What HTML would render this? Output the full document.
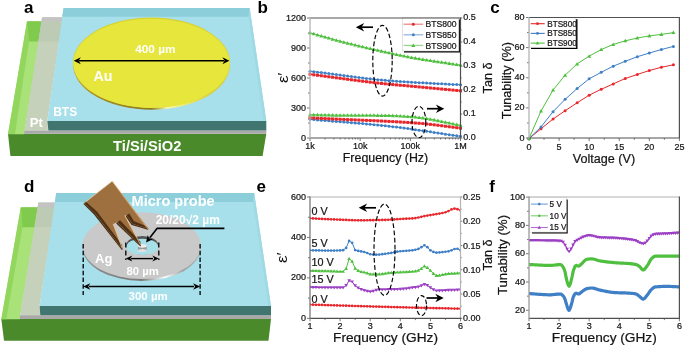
<!DOCTYPE html>
<html><head><meta charset="utf-8"><style>
html,body{margin:0;padding:0;background:#fff;}
svg{display:block;filter:blur(0.35px);}
text{font-family:"Liberation Sans",sans-serif;}
text[fill="#151515"]{stroke:#151515;stroke-width:0.22px;}
</style></head><body>
<svg width="685" height="346" viewBox="0 0 685 346" font-family="Liberation Sans, sans-serif">
<rect width="685" height="346" fill="#fff"/>
<polygon points="8,133.8 266.3,133.8 262.6,156 10.4,156" fill="#4a8a2b" />
<polygon points="27,21.2 42.2,21.2 24.2,134.2 8,134.2" fill="#a8e279" />
<polygon points="27,21.2 8,134 15,134 29,41.6" fill="#93d65e" />
<polygon points="27,21.2 42.2,21.2 38.9,41.6 29,41.6" fill="#80cb4d" />
<polygon points="42.1,17.3 62.8,17.3 47.3,121 48,130.6 24.5,130.6" fill="#c6d1bc" />
<polygon points="41.9,19 62.6,19 59.3,41.6 38.4,41.6" fill="#bdcab4" />
<polygon points="42.1,17.3 62.8,17.3 62.2,21.5 41.6,21.5" fill="#c3c3c3" />
<polygon points="24.5,130.4 266.3,130.4 266.3,133.8 23.9,133.8" fill="#a9a9a9" />
<polygon points="63.6,7.9 249.7,7.9 266.3,121 47.3,121" fill="#a7e0ea" />
<polygon points="249.7,7.9 266.3,121 263.5,121 248.5,16.8" fill="#9fd9e4" />
<polygon points="63.6,7.9 249.7,7.9 248.5,16.8 62.1,16.8" fill="#8ccfdb" />
<polygon points="47.3,121 266.3,121 266.3,130.4 48.4,130.4" fill="#40766f" />
<defs><linearGradient id="aurim" x1="0" y1="0" x2="1" y2="0"><stop offset="0" stop-color="#c0a830"/><stop offset="0.2" stop-color="#a08a22"/><stop offset="0.5" stop-color="#8e7a1c"/><stop offset="0.6" stop-color="#f6f6b8"/><stop offset="0.7" stop-color="#ecec70"/><stop offset="0.85" stop-color="#dcd040"/><stop offset="1" stop-color="#d8cc3a"/></linearGradient></defs>
<ellipse cx="151.5" cy="64.6" rx="78.4" ry="45.2" fill="url(#aurim)"/>
<ellipse cx="151.5" cy="62.6" rx="78.5" ry="45.2" fill="#d8d232"/>
<ellipse cx="151.5" cy="63.3" rx="78.2" ry="44.6" fill="#e6e63c"/>
<line x1="79" y1="60.7" x2="224" y2="60.7" stroke="#000" stroke-width="1.6" />
<polygon points="73.8,60.7 80.8,57.2 78.6,60.7 80.8,64.2" fill="#000" />
<polygon points="229.4,60.7 222.4,64.2 224.6,60.7 222.4,57.2" fill="#000" />
<text x="135.2" y="53.1" font-size="11.8" fill="#fff" font-weight="bold" text-anchor="start" >400 µm</text>
<text x="93.6" y="81.2" font-size="14.2" fill="#fff" font-weight="bold" text-anchor="start" >Au</text>
<text x="53.2" y="116.1" font-size="12" fill="#fff" font-weight="bold" text-anchor="start" >BTS</text>
<text x="29.8" y="126.6" font-size="13" fill="#fff" font-weight="bold" text-anchor="start" >Pt</text>
<text x="113.1" y="151.3" font-size="14.7" fill="#fff" font-weight="bold" text-anchor="start" >Ti/Si/SiO2</text>
<polygon points="1.3,319 271,319 268.5,340.8 4,340.8" fill="#4a8a2b" />
<polygon points="20.8,207.2 38.4,207.2 19.6,319.3 1.3,319.3" fill="#a8e279" />
<polygon points="20.8,207.2 1.3,319.2 6.3,319.2 22.5,227.3" fill="#93d65e" />
<polygon points="20.8,207.2 38.4,207.2 35,227.3 22.5,227.3" fill="#80cb4d" />
<polygon points="38.4,202.6 55.8,202.6 39.6,306 40.3,315.4 20,315.4" fill="#c6d1bc" />
<polygon points="38,205 55.5,205 52.3,227.1 34.9,227.1" fill="#bdcab4" />
<polygon points="38.4,202.6 55.8,202.6 55.3,207.2 37.6,207.2" fill="#c3c3c3" />
<polygon points="20,315.2 271,315.2 271,319 19.6,319" fill="#a9a9a9" />
<polygon points="56.2,193 254.2,193 271,306 39.6,306" fill="#a7e0ea" />
<polygon points="254.2,193 271,306 268.5,306 253,201.9" fill="#9fd9e4" />
<polygon points="56.2,193 254.2,193 253,201.9 54.9,201.9" fill="#8ccfdb" />
<polygon points="39.6,306 271,306 271,315.2 40.3,315.2" fill="#40766f" />
<defs><linearGradient id="agrim" x1="0" y1="0" x2="1" y2="0"><stop offset="0" stop-color="#909090"/><stop offset="0.5" stop-color="#7a7a7a"/><stop offset="0.7" stop-color="#ffffff"/><stop offset="0.85" stop-color="#a0a0a0"/><stop offset="1" stop-color="#b0b0b0"/></linearGradient></defs>
<ellipse cx="141.7" cy="247.6" rx="59.1" ry="33.3" fill="url(#agrim)"/>
<ellipse cx="141.7" cy="245.6" rx="59.1" ry="33.4" fill="#c9c9c9"/>
<ellipse cx="142.3" cy="245.4" rx="16" ry="9.3" fill="#555"/>
<ellipse cx="142.3" cy="246.9" rx="15.9" ry="8.2" fill="#a8e0ea"/>
<line x1="83.2" y1="244" x2="83.2" y2="295" stroke="#000" stroke-width="1.3" stroke-dasharray="4.5,2.2"/>
<line x1="200.1" y1="244" x2="200.1" y2="295" stroke="#000" stroke-width="1.3" stroke-dasharray="4.5,2.2"/>
<line x1="125.8" y1="242.4" x2="125.8" y2="260" stroke="#000" stroke-width="1.3" stroke-dasharray="5,3"/>
<line x1="158.8" y1="242.4" x2="158.8" y2="260" stroke="#000" stroke-width="1.3" stroke-dasharray="5,3"/>
<line x1="89" y1="286.5" x2="194" y2="286.5" stroke="#000" stroke-width="1.4" />
<polygon points="83.2,286.5 90.2,283.3 88.2,286.5 90.2,289.7" fill="#000" />
<polygon points="200.1,286.5 193.1,289.7 195.1,286.5 193.1,283.3" fill="#000" />
<line x1="131" y1="258.6" x2="153" y2="258.6" stroke="#000" stroke-width="1.4" />
<polygon points="125.8,258.6 132.3,255.6 130.3,258.6 132.3,261.6" fill="#000" />
<polygon points="158.8,258.6 152.3,261.6 154.3,258.6 152.3,255.6" fill="#000" />
<rect x="138" y="246" width="8.6" height="4.5" fill="#9a9a9a"/>
<ellipse cx="142.3" cy="250.5" rx="4.3" ry="1.5" fill="#e0e0e0"/>
<ellipse cx="142.3" cy="246" rx="4.3" ry="1.7" fill="#ececec"/>
<polygon points="126.6,215.3 132.3,223.8 148.5,228.8 147.8,229.8 131.6,225 125.6,216.4" fill="#4e3015" />
<polygon points="117.3,222.3 141,245.6 140.4,246.6 116.2,223.4" fill="#4e3015" />
<polygon points="84.2,202.9 95,213.3 122.6,249.2 122,250.2 94,214.4 83.4,204" fill="#4e3015" />
<polygon points="112.1,181.2 148.5,228.8 132.3,223.8 126.6,215.3 124.8,215.6 141,245.6 117.3,222.3 113.2,223.9 122.6,249.2 95,213.3 84.2,202.9" fill="#9e7040" />
<polygon points="126.6,215.3 132.3,223.8 148.5,228.8 145.5,226 133.8,221 129.2,213.6" fill="#4e3015" />
<polygon points="117.3,222.3 141,245.6 140.2,241.6 120,220.2" fill="#4e3015" />
<polygon points="84.2,202.9 95,213.3 122.6,249.2 122,245 97.2,211.8 85.6,201.6" fill="#4e3015" />
<line x1="124.8" y1="215.6" x2="140.6" y2="244.8" stroke="#f0c890" stroke-width="0.8" />
<line x1="113.2" y1="223.9" x2="122.2" y2="248.2" stroke="#f0c890" stroke-width="0.8" />
<line x1="112.4" y1="181.6" x2="147.6" y2="228.6" stroke="#e2a868" stroke-width="0.9" />
<line x1="84.6" y1="202.7" x2="111.8" y2="181.5" stroke="#e6cfa6" stroke-width="0.8" />
<polyline points="224.4,228.4 157,228.4 150,237.5" fill="none" stroke="#000" stroke-width="1.6" stroke-linejoin="round" />
<polygon points="146,242.6 147.77,235.07 149.11,238.69 152.94,239.17" fill="#000" />
<text x="131.6" y="206" font-size="14.5" fill="#fff" font-weight="bold" text-anchor="start" >Micro probe</text>
<text x="155.7" y="223.5" font-size="12" fill="#fff" font-weight="bold" text-anchor="start" >20/20√2 µm</text>
<text x="95" y="262.5" font-size="13" fill="#fff" font-weight="bold" text-anchor="start" >Ag</text>
<text x="126.5" y="275" font-size="11.3" fill="#fff" font-weight="bold" text-anchor="start" >80 µm</text>
<text x="128.5" y="299.6" font-size="11.5" fill="#fff" font-weight="bold" text-anchor="start" >300 µm</text>
<line x1="307" y1="138" x2="310" y2="138" stroke="#555" stroke-width="0.8" />
<text x="306" y="140.5" font-size="9" fill="#151515" font-weight="normal" text-anchor="end" >0</text>
<line x1="308" y1="123" x2="310" y2="123" stroke="#555" stroke-width="0.8" />
<line x1="307" y1="108" x2="310" y2="108" stroke="#555" stroke-width="0.8" />
<text x="306" y="110.5" font-size="9" fill="#151515" font-weight="normal" text-anchor="end" >300</text>
<line x1="308" y1="93" x2="310" y2="93" stroke="#555" stroke-width="0.8" />
<line x1="307" y1="78" x2="310" y2="78" stroke="#555" stroke-width="0.8" />
<text x="306" y="80.5" font-size="9" fill="#151515" font-weight="normal" text-anchor="end" >600</text>
<line x1="308" y1="63" x2="310" y2="63" stroke="#555" stroke-width="0.8" />
<line x1="307" y1="48" x2="310" y2="48" stroke="#555" stroke-width="0.8" />
<text x="306" y="50.5" font-size="9" fill="#151515" font-weight="normal" text-anchor="end" >900</text>
<line x1="308" y1="33" x2="310" y2="33" stroke="#555" stroke-width="0.8" />
<line x1="307" y1="18" x2="310" y2="18" stroke="#555" stroke-width="0.8" />
<text x="306" y="20.5" font-size="9" fill="#151515" font-weight="normal" text-anchor="end" >1200</text>
<line x1="460.5" y1="138" x2="462.3" y2="138" stroke="#555" stroke-width="0.8" />
<text x="463.3" y="140.3" font-size="9" fill="#151515" font-weight="normal" text-anchor="start" >0.0</text>
<line x1="460.5" y1="126" x2="461.7" y2="126" stroke="#555" stroke-width="0.8" />
<line x1="460.5" y1="114" x2="462.3" y2="114" stroke="#555" stroke-width="0.8" />
<text x="463.3" y="116.3" font-size="9" fill="#151515" font-weight="normal" text-anchor="start" >0.1</text>
<line x1="460.5" y1="102" x2="461.7" y2="102" stroke="#555" stroke-width="0.8" />
<line x1="460.5" y1="90" x2="462.3" y2="90" stroke="#555" stroke-width="0.8" />
<text x="463.3" y="92.3" font-size="9" fill="#151515" font-weight="normal" text-anchor="start" >0.2</text>
<line x1="460.5" y1="78" x2="461.7" y2="78" stroke="#555" stroke-width="0.8" />
<line x1="460.5" y1="66" x2="462.3" y2="66" stroke="#555" stroke-width="0.8" />
<text x="463.3" y="68.3" font-size="9" fill="#151515" font-weight="normal" text-anchor="start" >0.3</text>
<line x1="460.5" y1="54" x2="461.7" y2="54" stroke="#555" stroke-width="0.8" />
<line x1="460.5" y1="42" x2="462.3" y2="42" stroke="#555" stroke-width="0.8" />
<text x="463.3" y="44.3" font-size="9" fill="#151515" font-weight="normal" text-anchor="start" >0.4</text>
<line x1="460.5" y1="30" x2="461.7" y2="30" stroke="#555" stroke-width="0.8" />
<line x1="460.5" y1="18" x2="462.3" y2="18" stroke="#555" stroke-width="0.8" />
<text x="463.3" y="20.3" font-size="9" fill="#151515" font-weight="normal" text-anchor="start" >0.5</text>
<line x1="310" y1="138" x2="310" y2="141" stroke="#555" stroke-width="0.8" />
<line x1="325.1" y1="138" x2="325.1" y2="139.5" stroke="#555" stroke-width="0.8" />
<line x1="333.94" y1="138" x2="333.94" y2="139.5" stroke="#555" stroke-width="0.8" />
<line x1="340.2" y1="138" x2="340.2" y2="139.5" stroke="#555" stroke-width="0.8" />
<line x1="345.06" y1="138" x2="345.06" y2="139.5" stroke="#555" stroke-width="0.8" />
<line x1="349.04" y1="138" x2="349.04" y2="139.5" stroke="#555" stroke-width="0.8" />
<line x1="352.4" y1="138" x2="352.4" y2="139.5" stroke="#555" stroke-width="0.8" />
<line x1="355.31" y1="138" x2="355.31" y2="139.5" stroke="#555" stroke-width="0.8" />
<line x1="357.87" y1="138" x2="357.87" y2="139.5" stroke="#555" stroke-width="0.8" />
<line x1="360.17" y1="138" x2="360.17" y2="141" stroke="#555" stroke-width="0.8" />
<line x1="375.27" y1="138" x2="375.27" y2="139.5" stroke="#555" stroke-width="0.8" />
<line x1="384.1" y1="138" x2="384.1" y2="139.5" stroke="#555" stroke-width="0.8" />
<line x1="390.37" y1="138" x2="390.37" y2="139.5" stroke="#555" stroke-width="0.8" />
<line x1="395.23" y1="138" x2="395.23" y2="139.5" stroke="#555" stroke-width="0.8" />
<line x1="399.2" y1="138" x2="399.2" y2="139.5" stroke="#555" stroke-width="0.8" />
<line x1="402.56" y1="138" x2="402.56" y2="139.5" stroke="#555" stroke-width="0.8" />
<line x1="405.47" y1="138" x2="405.47" y2="139.5" stroke="#555" stroke-width="0.8" />
<line x1="408.04" y1="138" x2="408.04" y2="139.5" stroke="#555" stroke-width="0.8" />
<line x1="410.33" y1="138" x2="410.33" y2="141" stroke="#555" stroke-width="0.8" />
<line x1="425.44" y1="138" x2="425.44" y2="139.5" stroke="#555" stroke-width="0.8" />
<line x1="434.27" y1="138" x2="434.27" y2="139.5" stroke="#555" stroke-width="0.8" />
<line x1="440.54" y1="138" x2="440.54" y2="139.5" stroke="#555" stroke-width="0.8" />
<line x1="445.4" y1="138" x2="445.4" y2="139.5" stroke="#555" stroke-width="0.8" />
<line x1="449.37" y1="138" x2="449.37" y2="139.5" stroke="#555" stroke-width="0.8" />
<line x1="452.73" y1="138" x2="452.73" y2="139.5" stroke="#555" stroke-width="0.8" />
<line x1="455.64" y1="138" x2="455.64" y2="139.5" stroke="#555" stroke-width="0.8" />
<line x1="458.2" y1="138" x2="458.2" y2="139.5" stroke="#555" stroke-width="0.8" />
<line x1="460.5" y1="138" x2="460.5" y2="141" stroke="#555" stroke-width="0.8" />
<text x="310" y="149.3" font-size="9" fill="#151515" font-weight="normal" text-anchor="middle" >1k</text>
<text x="360.17" y="149.3" font-size="9" fill="#151515" font-weight="normal" text-anchor="middle" >10k</text>
<text x="410.33" y="149.3" font-size="9" fill="#151515" font-weight="normal" text-anchor="middle" >100k</text>
<text x="460.5" y="149.3" font-size="9" fill="#151515" font-weight="normal" text-anchor="middle" >1M</text>
<text x="385.5" y="161.8" font-size="12.4" fill="#151515" font-weight="normal" text-anchor="middle" >Frequency (Hz)</text>
<text transform="translate(287.6,77.8) rotate(-90) scale(1.2,1)" font-size="14" fill="#111" text-anchor="middle">ε′</text>
<text transform="translate(491.8,78) rotate(-90)" font-size="12.6" fill="#151515" text-anchor="middle">Tan δ</text>
<polyline points="310,71.2 313.76,71.66 317.52,72.14 321.29,72.62 325.05,73.11 328.81,73.61 332.57,74.11 336.34,74.61 340.1,75.11 343.86,75.61 347.62,76.1 351.39,76.58 355.15,77.06 358.91,77.53 362.68,77.98 366.44,78.42 370.2,78.84 373.96,79.25 377.73,79.63 381.49,79.99 385.25,80.33 389.01,80.64 392.77,80.93 396.54,81.21 400.3,81.47 404.06,81.72 407.82,81.96 411.59,82.19 415.35,82.42 419.11,82.64 422.88,82.85 426.64,83.05 430.4,83.25 434.16,83.45 437.93,83.64 441.69,83.83 445.45,84.02 449.21,84.21 452.98,84.41 456.74,84.6 460.5,84.8" fill="none" stroke="#3f7fc6" stroke-width="1.0" stroke-linejoin="round" />
<circle cx="310" cy="71.2" r="1.5" fill="#3f7fc6"/>
<circle cx="313.76" cy="71.66" r="1.5" fill="#3f7fc6"/>
<circle cx="317.52" cy="72.14" r="1.5" fill="#3f7fc6"/>
<circle cx="321.29" cy="72.62" r="1.5" fill="#3f7fc6"/>
<circle cx="325.05" cy="73.11" r="1.5" fill="#3f7fc6"/>
<circle cx="328.81" cy="73.61" r="1.5" fill="#3f7fc6"/>
<circle cx="332.57" cy="74.11" r="1.5" fill="#3f7fc6"/>
<circle cx="336.34" cy="74.61" r="1.5" fill="#3f7fc6"/>
<circle cx="340.1" cy="75.11" r="1.5" fill="#3f7fc6"/>
<circle cx="343.86" cy="75.61" r="1.5" fill="#3f7fc6"/>
<circle cx="347.62" cy="76.1" r="1.5" fill="#3f7fc6"/>
<circle cx="351.39" cy="76.58" r="1.5" fill="#3f7fc6"/>
<circle cx="355.15" cy="77.06" r="1.5" fill="#3f7fc6"/>
<circle cx="358.91" cy="77.53" r="1.5" fill="#3f7fc6"/>
<circle cx="362.68" cy="77.98" r="1.5" fill="#3f7fc6"/>
<circle cx="366.44" cy="78.42" r="1.5" fill="#3f7fc6"/>
<circle cx="370.2" cy="78.84" r="1.5" fill="#3f7fc6"/>
<circle cx="373.96" cy="79.25" r="1.5" fill="#3f7fc6"/>
<circle cx="377.73" cy="79.63" r="1.5" fill="#3f7fc6"/>
<circle cx="381.49" cy="79.99" r="1.5" fill="#3f7fc6"/>
<circle cx="385.25" cy="80.33" r="1.5" fill="#3f7fc6"/>
<circle cx="389.01" cy="80.64" r="1.5" fill="#3f7fc6"/>
<circle cx="392.77" cy="80.93" r="1.5" fill="#3f7fc6"/>
<circle cx="396.54" cy="81.21" r="1.5" fill="#3f7fc6"/>
<circle cx="400.3" cy="81.47" r="1.5" fill="#3f7fc6"/>
<circle cx="404.06" cy="81.72" r="1.5" fill="#3f7fc6"/>
<circle cx="407.82" cy="81.96" r="1.5" fill="#3f7fc6"/>
<circle cx="411.59" cy="82.19" r="1.5" fill="#3f7fc6"/>
<circle cx="415.35" cy="82.42" r="1.5" fill="#3f7fc6"/>
<circle cx="419.11" cy="82.64" r="1.5" fill="#3f7fc6"/>
<circle cx="422.88" cy="82.85" r="1.5" fill="#3f7fc6"/>
<circle cx="426.64" cy="83.05" r="1.5" fill="#3f7fc6"/>
<circle cx="430.4" cy="83.25" r="1.5" fill="#3f7fc6"/>
<circle cx="434.16" cy="83.45" r="1.5" fill="#3f7fc6"/>
<circle cx="437.93" cy="83.64" r="1.5" fill="#3f7fc6"/>
<circle cx="441.69" cy="83.83" r="1.5" fill="#3f7fc6"/>
<circle cx="445.45" cy="84.02" r="1.5" fill="#3f7fc6"/>
<circle cx="449.21" cy="84.21" r="1.5" fill="#3f7fc6"/>
<circle cx="452.98" cy="84.41" r="1.5" fill="#3f7fc6"/>
<circle cx="456.74" cy="84.6" r="1.5" fill="#3f7fc6"/>
<circle cx="460.5" cy="84.8" r="1.5" fill="#3f7fc6"/>
<polyline points="310,74.3 313.76,74.78 317.52,75.27 321.29,75.76 325.05,76.26 328.81,76.77 332.57,77.27 336.34,77.78 340.1,78.28 343.86,78.79 347.62,79.29 351.39,79.78 355.15,80.27 358.91,80.76 362.68,81.23 366.44,81.7 370.2,82.15 373.96,82.59 377.73,83.02 381.49,83.43 385.25,83.83 389.01,84.21 392.77,84.56 396.54,84.9 400.3,85.23 404.06,85.56 407.82,85.89 411.59,86.24 415.35,86.59 419.11,86.94 422.88,87.29 426.64,87.64 430.4,87.99 434.16,88.34 437.93,88.69 441.69,89.04 445.45,89.39 449.21,89.75 452.98,90.1 456.74,90.45 460.5,90.8" fill="none" stroke="#e8262b" stroke-width="1.0" stroke-linejoin="round" />
<rect x="308.5" y="72.8" width="3" height="3" fill="#e8262b"/>
<rect x="312.26" y="73.28" width="3" height="3" fill="#e8262b"/>
<rect x="316.02" y="73.77" width="3" height="3" fill="#e8262b"/>
<rect x="319.79" y="74.26" width="3" height="3" fill="#e8262b"/>
<rect x="323.55" y="74.76" width="3" height="3" fill="#e8262b"/>
<rect x="327.31" y="75.27" width="3" height="3" fill="#e8262b"/>
<rect x="331.07" y="75.77" width="3" height="3" fill="#e8262b"/>
<rect x="334.84" y="76.28" width="3" height="3" fill="#e8262b"/>
<rect x="338.6" y="76.78" width="3" height="3" fill="#e8262b"/>
<rect x="342.36" y="77.29" width="3" height="3" fill="#e8262b"/>
<rect x="346.12" y="77.79" width="3" height="3" fill="#e8262b"/>
<rect x="349.89" y="78.28" width="3" height="3" fill="#e8262b"/>
<rect x="353.65" y="78.77" width="3" height="3" fill="#e8262b"/>
<rect x="357.41" y="79.26" width="3" height="3" fill="#e8262b"/>
<rect x="361.18" y="79.73" width="3" height="3" fill="#e8262b"/>
<rect x="364.94" y="80.2" width="3" height="3" fill="#e8262b"/>
<rect x="368.7" y="80.65" width="3" height="3" fill="#e8262b"/>
<rect x="372.46" y="81.09" width="3" height="3" fill="#e8262b"/>
<rect x="376.23" y="81.52" width="3" height="3" fill="#e8262b"/>
<rect x="379.99" y="81.93" width="3" height="3" fill="#e8262b"/>
<rect x="383.75" y="82.33" width="3" height="3" fill="#e8262b"/>
<rect x="387.51" y="82.71" width="3" height="3" fill="#e8262b"/>
<rect x="391.27" y="83.06" width="3" height="3" fill="#e8262b"/>
<rect x="395.04" y="83.4" width="3" height="3" fill="#e8262b"/>
<rect x="398.8" y="83.73" width="3" height="3" fill="#e8262b"/>
<rect x="402.56" y="84.06" width="3" height="3" fill="#e8262b"/>
<rect x="406.32" y="84.39" width="3" height="3" fill="#e8262b"/>
<rect x="410.09" y="84.74" width="3" height="3" fill="#e8262b"/>
<rect x="413.85" y="85.09" width="3" height="3" fill="#e8262b"/>
<rect x="417.61" y="85.44" width="3" height="3" fill="#e8262b"/>
<rect x="421.38" y="85.79" width="3" height="3" fill="#e8262b"/>
<rect x="425.14" y="86.14" width="3" height="3" fill="#e8262b"/>
<rect x="428.9" y="86.49" width="3" height="3" fill="#e8262b"/>
<rect x="432.66" y="86.84" width="3" height="3" fill="#e8262b"/>
<rect x="436.43" y="87.19" width="3" height="3" fill="#e8262b"/>
<rect x="440.19" y="87.54" width="3" height="3" fill="#e8262b"/>
<rect x="443.95" y="87.89" width="3" height="3" fill="#e8262b"/>
<rect x="447.71" y="88.25" width="3" height="3" fill="#e8262b"/>
<rect x="451.48" y="88.6" width="3" height="3" fill="#e8262b"/>
<rect x="455.24" y="88.95" width="3" height="3" fill="#e8262b"/>
<rect x="459" y="89.3" width="3" height="3" fill="#e8262b"/>
<polyline points="310,32.8 313.76,33.85 317.52,34.91 321.29,35.97 325.05,37.04 328.81,38.1 332.57,39.15 336.34,40.19 340.1,41.2 343.86,42.19 347.62,43.15 351.39,44.09 355.15,45.02 358.91,45.93 362.68,46.82 366.44,47.71 370.2,48.58 373.96,49.44 377.73,50.29 381.49,51.14 385.25,51.98 389.01,52.83 392.77,53.66 396.54,54.48 400.3,55.28 404.06,56.05 407.82,56.78 411.59,57.47 415.35,58.14 419.11,58.77 422.88,59.39 426.64,59.99 430.4,60.57 434.16,61.14 437.93,61.71 441.69,62.27 445.45,62.82 449.21,63.38 452.98,63.95 456.74,64.52 460.5,65.1" fill="none" stroke="#4fbf3f" stroke-width="1.0" stroke-linejoin="round" />
<polygon points="310,30.77 312.02,34.32 307.98,34.32" fill="#4fbf3f"/>
<polygon points="313.76,31.82 315.79,35.37 311.74,35.37" fill="#4fbf3f"/>
<polygon points="317.52,32.88 319.55,36.43 315.5,36.43" fill="#4fbf3f"/>
<polygon points="321.29,33.95 323.31,37.49 319.26,37.49" fill="#4fbf3f"/>
<polygon points="325.05,35.02 327.07,38.56 323.03,38.56" fill="#4fbf3f"/>
<polygon points="328.81,36.08 330.84,39.62 326.79,39.62" fill="#4fbf3f"/>
<polygon points="332.57,37.13 334.6,40.67 330.55,40.67" fill="#4fbf3f"/>
<polygon points="336.34,38.16 338.36,41.71 334.31,41.71" fill="#4fbf3f"/>
<polygon points="340.1,39.18 342.12,42.72 338.08,42.72" fill="#4fbf3f"/>
<polygon points="343.86,40.17 345.89,43.71 341.84,43.71" fill="#4fbf3f"/>
<polygon points="347.62,41.13 349.65,44.67 345.6,44.67" fill="#4fbf3f"/>
<polygon points="351.39,42.07 353.41,45.61 349.36,45.61" fill="#4fbf3f"/>
<polygon points="355.15,42.99 357.17,46.54 353.12,46.54" fill="#4fbf3f"/>
<polygon points="358.91,43.9 360.94,47.45 356.89,47.45" fill="#4fbf3f"/>
<polygon points="362.68,44.8 364.7,48.34 360.65,48.34" fill="#4fbf3f"/>
<polygon points="366.44,45.68 368.46,49.23 364.41,49.23" fill="#4fbf3f"/>
<polygon points="370.2,46.55 372.22,50.1 368.18,50.1" fill="#4fbf3f"/>
<polygon points="373.96,47.42 375.99,50.96 371.94,50.96" fill="#4fbf3f"/>
<polygon points="377.73,48.27 379.75,51.81 375.7,51.81" fill="#4fbf3f"/>
<polygon points="381.49,49.11 383.51,52.66 379.46,52.66" fill="#4fbf3f"/>
<polygon points="385.25,49.96 387.27,53.5 383.23,53.5" fill="#4fbf3f"/>
<polygon points="389.01,50.8 391.04,54.35 386.99,54.35" fill="#4fbf3f"/>
<polygon points="392.77,51.64 394.8,55.18 390.75,55.18" fill="#4fbf3f"/>
<polygon points="396.54,52.46 398.56,56 394.51,56" fill="#4fbf3f"/>
<polygon points="400.3,53.25 402.32,56.8 398.28,56.8" fill="#4fbf3f"/>
<polygon points="404.06,54.02 406.09,57.56 402.04,57.56" fill="#4fbf3f"/>
<polygon points="407.82,54.75 409.85,58.3 405.8,58.3" fill="#4fbf3f"/>
<polygon points="411.59,55.45 413.61,58.99 409.56,58.99" fill="#4fbf3f"/>
<polygon points="415.35,56.11 417.38,59.65 413.33,59.65" fill="#4fbf3f"/>
<polygon points="419.11,56.75 421.14,60.29 417.09,60.29" fill="#4fbf3f"/>
<polygon points="422.88,57.37 424.9,60.91 420.85,60.91" fill="#4fbf3f"/>
<polygon points="426.64,57.96 428.66,61.51 424.61,61.51" fill="#4fbf3f"/>
<polygon points="430.4,58.55 432.42,62.09 428.38,62.09" fill="#4fbf3f"/>
<polygon points="434.16,59.12 436.19,62.66 432.14,62.66" fill="#4fbf3f"/>
<polygon points="437.93,59.68 439.95,63.23 435.9,63.23" fill="#4fbf3f"/>
<polygon points="441.69,60.24 443.71,63.79 439.66,63.79" fill="#4fbf3f"/>
<polygon points="445.45,60.8 447.48,64.34 443.43,64.34" fill="#4fbf3f"/>
<polygon points="449.21,61.36 451.24,64.9 447.19,64.9" fill="#4fbf3f"/>
<polygon points="452.98,61.92 455,65.46 450.95,65.46" fill="#4fbf3f"/>
<polygon points="456.74,62.49 458.76,66.04 454.71,66.04" fill="#4fbf3f"/>
<polygon points="460.5,63.07 462.52,66.62 458.48,66.62" fill="#4fbf3f"/>
<polyline points="310,119.28 313.76,119.6 317.52,119.92 321.29,120.23 325.05,120.53 328.81,120.83 332.57,121.14 336.34,121.44 340.1,121.74 343.86,122.04 347.62,122.34 351.39,122.65 355.15,122.96 358.91,123.28 362.68,123.61 366.44,123.95 370.2,124.29 373.96,124.65 377.73,125.02 381.49,125.4 385.25,125.79 389.01,126.21 392.77,126.65 396.54,127.11 400.3,127.58 404.06,128.08 407.82,128.59 411.59,129.12 415.35,129.65 419.11,130.2 422.88,130.75 426.64,131.31 430.4,131.87 434.16,132.44 437.93,133.01 441.69,133.57 445.45,134.14 449.21,134.7 452.98,135.25 456.74,135.79 460.5,136.32" fill="none" stroke="#3f7fc6" stroke-width="1.0" stroke-linejoin="round" />
<circle cx="310" cy="119.28" r="1.5" fill="#3f7fc6"/>
<circle cx="313.76" cy="119.6" r="1.5" fill="#3f7fc6"/>
<circle cx="317.52" cy="119.92" r="1.5" fill="#3f7fc6"/>
<circle cx="321.29" cy="120.23" r="1.5" fill="#3f7fc6"/>
<circle cx="325.05" cy="120.53" r="1.5" fill="#3f7fc6"/>
<circle cx="328.81" cy="120.83" r="1.5" fill="#3f7fc6"/>
<circle cx="332.57" cy="121.14" r="1.5" fill="#3f7fc6"/>
<circle cx="336.34" cy="121.44" r="1.5" fill="#3f7fc6"/>
<circle cx="340.1" cy="121.74" r="1.5" fill="#3f7fc6"/>
<circle cx="343.86" cy="122.04" r="1.5" fill="#3f7fc6"/>
<circle cx="347.62" cy="122.34" r="1.5" fill="#3f7fc6"/>
<circle cx="351.39" cy="122.65" r="1.5" fill="#3f7fc6"/>
<circle cx="355.15" cy="122.96" r="1.5" fill="#3f7fc6"/>
<circle cx="358.91" cy="123.28" r="1.5" fill="#3f7fc6"/>
<circle cx="362.68" cy="123.61" r="1.5" fill="#3f7fc6"/>
<circle cx="366.44" cy="123.95" r="1.5" fill="#3f7fc6"/>
<circle cx="370.2" cy="124.29" r="1.5" fill="#3f7fc6"/>
<circle cx="373.96" cy="124.65" r="1.5" fill="#3f7fc6"/>
<circle cx="377.73" cy="125.02" r="1.5" fill="#3f7fc6"/>
<circle cx="381.49" cy="125.4" r="1.5" fill="#3f7fc6"/>
<circle cx="385.25" cy="125.79" r="1.5" fill="#3f7fc6"/>
<circle cx="389.01" cy="126.21" r="1.5" fill="#3f7fc6"/>
<circle cx="392.77" cy="126.65" r="1.5" fill="#3f7fc6"/>
<circle cx="396.54" cy="127.11" r="1.5" fill="#3f7fc6"/>
<circle cx="400.3" cy="127.58" r="1.5" fill="#3f7fc6"/>
<circle cx="404.06" cy="128.08" r="1.5" fill="#3f7fc6"/>
<circle cx="407.82" cy="128.59" r="1.5" fill="#3f7fc6"/>
<circle cx="411.59" cy="129.12" r="1.5" fill="#3f7fc6"/>
<circle cx="415.35" cy="129.65" r="1.5" fill="#3f7fc6"/>
<circle cx="419.11" cy="130.2" r="1.5" fill="#3f7fc6"/>
<circle cx="422.88" cy="130.75" r="1.5" fill="#3f7fc6"/>
<circle cx="426.64" cy="131.31" r="1.5" fill="#3f7fc6"/>
<circle cx="430.4" cy="131.87" r="1.5" fill="#3f7fc6"/>
<circle cx="434.16" cy="132.44" r="1.5" fill="#3f7fc6"/>
<circle cx="437.93" cy="133.01" r="1.5" fill="#3f7fc6"/>
<circle cx="441.69" cy="133.57" r="1.5" fill="#3f7fc6"/>
<circle cx="445.45" cy="134.14" r="1.5" fill="#3f7fc6"/>
<circle cx="449.21" cy="134.7" r="1.5" fill="#3f7fc6"/>
<circle cx="452.98" cy="135.25" r="1.5" fill="#3f7fc6"/>
<circle cx="456.74" cy="135.79" r="1.5" fill="#3f7fc6"/>
<circle cx="460.5" cy="136.32" r="1.5" fill="#3f7fc6"/>
<polyline points="310,117.84 313.76,118.02 317.52,118.2 321.29,118.39 325.05,118.57 328.81,118.75 332.57,118.93 336.34,119.11 340.1,119.28 343.86,119.45 347.62,119.61 351.39,119.76 355.15,119.91 358.91,120.06 362.68,120.22 366.44,120.37 370.2,120.52 373.96,120.68 377.73,120.85 381.49,121.03 385.25,121.22 389.01,121.41 392.77,121.61 396.54,121.81 400.3,122.02 404.06,122.25 407.82,122.48 411.59,122.73 415.35,123 419.11,123.29 422.88,123.6 426.64,123.97 430.4,124.37 434.16,124.81 437.93,125.27 441.69,125.75 445.45,126.24 449.21,126.74 452.98,127.22 456.74,127.7 460.5,128.16" fill="none" stroke="#e8262b" stroke-width="1.0" stroke-linejoin="round" />
<rect x="308.5" y="116.34" width="3" height="3" fill="#e8262b"/>
<rect x="312.26" y="116.52" width="3" height="3" fill="#e8262b"/>
<rect x="316.02" y="116.7" width="3" height="3" fill="#e8262b"/>
<rect x="319.79" y="116.89" width="3" height="3" fill="#e8262b"/>
<rect x="323.55" y="117.07" width="3" height="3" fill="#e8262b"/>
<rect x="327.31" y="117.25" width="3" height="3" fill="#e8262b"/>
<rect x="331.07" y="117.43" width="3" height="3" fill="#e8262b"/>
<rect x="334.84" y="117.61" width="3" height="3" fill="#e8262b"/>
<rect x="338.6" y="117.78" width="3" height="3" fill="#e8262b"/>
<rect x="342.36" y="117.95" width="3" height="3" fill="#e8262b"/>
<rect x="346.12" y="118.11" width="3" height="3" fill="#e8262b"/>
<rect x="349.89" y="118.26" width="3" height="3" fill="#e8262b"/>
<rect x="353.65" y="118.41" width="3" height="3" fill="#e8262b"/>
<rect x="357.41" y="118.56" width="3" height="3" fill="#e8262b"/>
<rect x="361.18" y="118.72" width="3" height="3" fill="#e8262b"/>
<rect x="364.94" y="118.87" width="3" height="3" fill="#e8262b"/>
<rect x="368.7" y="119.02" width="3" height="3" fill="#e8262b"/>
<rect x="372.46" y="119.18" width="3" height="3" fill="#e8262b"/>
<rect x="376.23" y="119.35" width="3" height="3" fill="#e8262b"/>
<rect x="379.99" y="119.53" width="3" height="3" fill="#e8262b"/>
<rect x="383.75" y="119.72" width="3" height="3" fill="#e8262b"/>
<rect x="387.51" y="119.91" width="3" height="3" fill="#e8262b"/>
<rect x="391.27" y="120.11" width="3" height="3" fill="#e8262b"/>
<rect x="395.04" y="120.31" width="3" height="3" fill="#e8262b"/>
<rect x="398.8" y="120.52" width="3" height="3" fill="#e8262b"/>
<rect x="402.56" y="120.75" width="3" height="3" fill="#e8262b"/>
<rect x="406.32" y="120.98" width="3" height="3" fill="#e8262b"/>
<rect x="410.09" y="121.23" width="3" height="3" fill="#e8262b"/>
<rect x="413.85" y="121.5" width="3" height="3" fill="#e8262b"/>
<rect x="417.61" y="121.79" width="3" height="3" fill="#e8262b"/>
<rect x="421.38" y="122.1" width="3" height="3" fill="#e8262b"/>
<rect x="425.14" y="122.47" width="3" height="3" fill="#e8262b"/>
<rect x="428.9" y="122.87" width="3" height="3" fill="#e8262b"/>
<rect x="432.66" y="123.31" width="3" height="3" fill="#e8262b"/>
<rect x="436.43" y="123.77" width="3" height="3" fill="#e8262b"/>
<rect x="440.19" y="124.25" width="3" height="3" fill="#e8262b"/>
<rect x="443.95" y="124.74" width="3" height="3" fill="#e8262b"/>
<rect x="447.71" y="125.24" width="3" height="3" fill="#e8262b"/>
<rect x="451.48" y="125.72" width="3" height="3" fill="#e8262b"/>
<rect x="455.24" y="126.2" width="3" height="3" fill="#e8262b"/>
<rect x="459" y="126.66" width="3" height="3" fill="#e8262b"/>
<polyline points="310,114.72 313.76,114.78 317.52,114.85 321.29,114.92 325.05,114.99 328.81,115.05 332.57,115.11 336.34,115.16 340.1,115.2 343.86,115.23 347.62,115.25 351.39,115.27 355.15,115.28 358.91,115.3 362.68,115.31 366.44,115.32 370.2,115.34 373.96,115.36 377.73,115.38 381.49,115.41 385.25,115.44 389.01,115.52 392.77,115.64 396.54,115.81 400.3,116.01 404.06,116.24 407.82,116.49 411.59,116.75 415.35,117.09 419.11,117.51 422.88,117.99 426.64,118.56 430.4,119.2 434.16,119.9 437.93,120.64 441.69,121.41 445.45,122.2 449.21,122.99 452.98,123.78 456.74,124.55 460.5,125.28" fill="none" stroke="#4fbf3f" stroke-width="1.0" stroke-linejoin="round" />
<polygon points="310,112.69 312.02,116.24 307.98,116.24" fill="#4fbf3f"/>
<polygon points="313.76,112.76 315.79,116.3 311.74,116.3" fill="#4fbf3f"/>
<polygon points="317.52,112.83 319.55,116.37 315.5,116.37" fill="#4fbf3f"/>
<polygon points="321.29,112.9 323.31,116.44 319.26,116.44" fill="#4fbf3f"/>
<polygon points="325.05,112.96 327.07,116.51 323.03,116.51" fill="#4fbf3f"/>
<polygon points="328.81,113.03 330.84,116.57 326.79,116.57" fill="#4fbf3f"/>
<polygon points="332.57,113.09 334.6,116.63 330.55,116.63" fill="#4fbf3f"/>
<polygon points="336.34,113.14 338.36,116.68 334.31,116.68" fill="#4fbf3f"/>
<polygon points="340.1,113.17 342.12,116.72 338.08,116.72" fill="#4fbf3f"/>
<polygon points="343.86,113.2 345.89,116.75 341.84,116.75" fill="#4fbf3f"/>
<polygon points="347.62,113.23 349.65,116.77 345.6,116.77" fill="#4fbf3f"/>
<polygon points="351.39,113.24 353.41,116.79 349.36,116.79" fill="#4fbf3f"/>
<polygon points="355.15,113.26 357.17,116.8 353.12,116.8" fill="#4fbf3f"/>
<polygon points="358.91,113.27 360.94,116.81 356.89,116.81" fill="#4fbf3f"/>
<polygon points="362.68,113.28 364.7,116.83 360.65,116.83" fill="#4fbf3f"/>
<polygon points="366.44,113.3 368.46,116.84 364.41,116.84" fill="#4fbf3f"/>
<polygon points="370.2,113.31 372.22,116.86 368.18,116.86" fill="#4fbf3f"/>
<polygon points="373.96,113.33 375.99,116.87 371.94,116.87" fill="#4fbf3f"/>
<polygon points="377.73,113.35 379.75,116.9 375.7,116.9" fill="#4fbf3f"/>
<polygon points="381.49,113.38 383.51,116.93 379.46,116.93" fill="#4fbf3f"/>
<polygon points="385.25,113.42 387.27,116.96 383.23,116.96" fill="#4fbf3f"/>
<polygon points="389.01,113.49 391.04,117.04 386.99,117.04" fill="#4fbf3f"/>
<polygon points="392.77,113.62 394.8,117.16 390.75,117.16" fill="#4fbf3f"/>
<polygon points="396.54,113.79 398.56,117.33 394.51,117.33" fill="#4fbf3f"/>
<polygon points="400.3,113.99 402.32,117.53 398.28,117.53" fill="#4fbf3f"/>
<polygon points="404.06,114.22 406.09,117.76 402.04,117.76" fill="#4fbf3f"/>
<polygon points="407.82,114.46 409.85,118.01 405.8,118.01" fill="#4fbf3f"/>
<polygon points="411.59,114.73 413.61,118.27 409.56,118.27" fill="#4fbf3f"/>
<polygon points="415.35,115.07 417.38,118.61 413.33,118.61" fill="#4fbf3f"/>
<polygon points="419.11,115.48 421.14,119.03 417.09,119.03" fill="#4fbf3f"/>
<polygon points="422.88,115.97 424.9,119.51 420.85,119.51" fill="#4fbf3f"/>
<polygon points="426.64,116.54 428.66,120.08 424.61,120.08" fill="#4fbf3f"/>
<polygon points="430.4,117.18 432.42,120.72 428.38,120.72" fill="#4fbf3f"/>
<polygon points="434.16,117.87 436.19,121.41 432.14,121.41" fill="#4fbf3f"/>
<polygon points="437.93,118.61 439.95,122.16 435.9,122.16" fill="#4fbf3f"/>
<polygon points="441.69,119.38 443.71,122.93 439.66,122.93" fill="#4fbf3f"/>
<polygon points="445.45,120.17 447.48,123.72 443.43,123.72" fill="#4fbf3f"/>
<polygon points="449.21,120.97 451.24,124.51 447.19,124.51" fill="#4fbf3f"/>
<polygon points="452.98,121.76 455,125.3 450.95,125.3" fill="#4fbf3f"/>
<polygon points="456.74,122.52 458.76,126.07 454.71,126.07" fill="#4fbf3f"/>
<polygon points="460.5,123.25 462.52,126.8 458.48,126.8" fill="#4fbf3f"/>
<rect x="404" y="19.5" width="56" height="33" fill="#000"/>
<rect x="402.3" y="17.6" width="56.5" height="33.4" fill="#fff" stroke="#d0d0d0" stroke-width="0.6"/>
<line x1="403.5" y1="24.2" x2="423.2" y2="24.2" stroke="#e8262b" stroke-width="1.2" stroke-opacity="0.6"/>
<circle cx="413.3" cy="24.2" r="1.5" fill="#e8262b"/>
<text x="425.6" y="27.3" font-size="8.6" fill="#151515" font-weight="normal" text-anchor="start" >BTS800</text>
<line x1="403.5" y1="34.8" x2="423.2" y2="34.8" stroke="#3f7fc6" stroke-width="1.2" stroke-opacity="0.6"/>
<circle cx="413.3" cy="34.8" r="1.5" fill="#3f7fc6"/>
<text x="425.6" y="37.9" font-size="8.6" fill="#151515" font-weight="normal" text-anchor="start" >BTS850</text>
<line x1="403.5" y1="45.4" x2="423.2" y2="45.4" stroke="#4fbf3f" stroke-width="1.2" stroke-opacity="0.6"/>
<polygon points="413.3,43.38 415.32,46.92 411.28,46.92" fill="#4fbf3f"/>
<text x="425.6" y="48.5" font-size="8.6" fill="#151515" font-weight="normal" text-anchor="start" >BTS900</text>
<line x1="310" y1="18" x2="460.5" y2="18" stroke="#505050" stroke-width="1.2" />
<line x1="460.5" y1="17.4" x2="460.5" y2="138" stroke="#505050" stroke-width="1.2" />
<line x1="310" y1="138" x2="461.1" y2="138" stroke="#505050" stroke-width="1.2" />
<line x1="310" y1="17.4" x2="310" y2="138.6" stroke="#b4b4b4" stroke-width="1.3" />
<ellipse cx="382.5" cy="60.7" rx="9.7" ry="35.4" fill="none" stroke="#000" stroke-width="1.15" stroke-dasharray="4.6,2.4"/>
<ellipse cx="418.9" cy="122" rx="6.9" ry="15.7" fill="none" stroke="#000" stroke-width="1.15" stroke-dasharray="4.6,2.4"/>
<line x1="373" y1="27.2" x2="359.8" y2="27.2" stroke="#000" stroke-width="1.7" />
<polygon points="355.8,27.2 364.2,23 361.6,27.2 364.2,31.4" fill="#000" />
<line x1="427" y1="108.7" x2="440.3" y2="108.7" stroke="#000" stroke-width="1.7" />
<polygon points="444.3,108.7 435.9,112.9 438.5,108.7 435.9,104.5" fill="#000" />
<line x1="526" y1="138" x2="529" y2="138" stroke="#555" stroke-width="0.8" />
<text x="524.5" y="140.5" font-size="9" fill="#151515" font-weight="normal" text-anchor="end" >0</text>
<line x1="527" y1="122.94" x2="529" y2="122.94" stroke="#555" stroke-width="0.8" />
<line x1="526" y1="107.88" x2="529" y2="107.88" stroke="#555" stroke-width="0.8" />
<text x="524.5" y="110.38" font-size="9" fill="#151515" font-weight="normal" text-anchor="end" >20</text>
<line x1="527" y1="92.81" x2="529" y2="92.81" stroke="#555" stroke-width="0.8" />
<line x1="526" y1="77.75" x2="529" y2="77.75" stroke="#555" stroke-width="0.8" />
<text x="524.5" y="80.25" font-size="9" fill="#151515" font-weight="normal" text-anchor="end" >40</text>
<line x1="527" y1="62.69" x2="529" y2="62.69" stroke="#555" stroke-width="0.8" />
<line x1="526" y1="47.62" x2="529" y2="47.62" stroke="#555" stroke-width="0.8" />
<text x="524.5" y="50.12" font-size="9" fill="#151515" font-weight="normal" text-anchor="end" >60</text>
<line x1="527" y1="32.56" x2="529" y2="32.56" stroke="#555" stroke-width="0.8" />
<line x1="526" y1="17.5" x2="529" y2="17.5" stroke="#555" stroke-width="0.8" />
<text x="524.5" y="20" font-size="9" fill="#151515" font-weight="normal" text-anchor="end" >80</text>
<line x1="529" y1="138" x2="529" y2="141" stroke="#555" stroke-width="0.8" />
<text x="529" y="149.6" font-size="9" fill="#151515" font-weight="normal" text-anchor="middle" >0</text>
<line x1="544.04" y1="138" x2="544.04" y2="139.8" stroke="#555" stroke-width="0.8" />
<line x1="559.08" y1="138" x2="559.08" y2="141" stroke="#555" stroke-width="0.8" />
<text x="559.08" y="149.6" font-size="9" fill="#151515" font-weight="normal" text-anchor="middle" >5</text>
<line x1="574.12" y1="138" x2="574.12" y2="139.8" stroke="#555" stroke-width="0.8" />
<line x1="589.16" y1="138" x2="589.16" y2="141" stroke="#555" stroke-width="0.8" />
<text x="589.16" y="149.6" font-size="9" fill="#151515" font-weight="normal" text-anchor="middle" >10</text>
<line x1="604.2" y1="138" x2="604.2" y2="139.8" stroke="#555" stroke-width="0.8" />
<line x1="619.24" y1="138" x2="619.24" y2="141" stroke="#555" stroke-width="0.8" />
<text x="619.24" y="149.6" font-size="9" fill="#151515" font-weight="normal" text-anchor="middle" >15</text>
<line x1="634.28" y1="138" x2="634.28" y2="139.8" stroke="#555" stroke-width="0.8" />
<line x1="649.32" y1="138" x2="649.32" y2="141" stroke="#555" stroke-width="0.8" />
<text x="649.32" y="149.6" font-size="9" fill="#151515" font-weight="normal" text-anchor="middle" >20</text>
<line x1="664.36" y1="138" x2="664.36" y2="139.8" stroke="#555" stroke-width="0.8" />
<line x1="679.4" y1="138" x2="679.4" y2="141" stroke="#555" stroke-width="0.8" />
<text x="679.4" y="149.6" font-size="9" fill="#151515" font-weight="normal" text-anchor="middle" >25</text>
<text x="604" y="162.5" font-size="12.6" fill="#151515" font-weight="normal" text-anchor="middle" >Voltage (V)</text>
<text transform="translate(511,80.6) rotate(-90)" font-size="12.7" fill="#151515" text-anchor="middle">Tunability (%)</text>
<polyline points="529,138.5 541.03,128.75 553.06,119 565.1,110.75 577.13,102.8 589.16,95.15 601.19,89.3 613.22,83.9 625.26,78.5 637.29,74.45 649.32,70.55 661.35,67.25 673.38,64.85" fill="none" stroke="#e8262b" stroke-width="1.0" stroke-linejoin="round" />
<circle cx="529" cy="138.5" r="1.5" fill="#e8262b"/>
<circle cx="541.03" cy="128.75" r="1.5" fill="#e8262b"/>
<circle cx="553.06" cy="119" r="1.5" fill="#e8262b"/>
<circle cx="565.1" cy="110.75" r="1.5" fill="#e8262b"/>
<circle cx="577.13" cy="102.8" r="1.5" fill="#e8262b"/>
<circle cx="589.16" cy="95.15" r="1.5" fill="#e8262b"/>
<circle cx="601.19" cy="89.3" r="1.5" fill="#e8262b"/>
<circle cx="613.22" cy="83.9" r="1.5" fill="#e8262b"/>
<circle cx="625.26" cy="78.5" r="1.5" fill="#e8262b"/>
<circle cx="637.29" cy="74.45" r="1.5" fill="#e8262b"/>
<circle cx="649.32" cy="70.55" r="1.5" fill="#e8262b"/>
<circle cx="661.35" cy="67.25" r="1.5" fill="#e8262b"/>
<circle cx="673.38" cy="64.85" r="1.5" fill="#e8262b"/>
<polyline points="529,138.5 541.03,126.95 553.06,111.65 565.1,99.35 577.13,88.55 589.16,78.8 601.19,72.35 613.22,66.2 625.26,61.25 637.29,56.75 649.32,53 661.35,49.55 673.38,46.4" fill="none" stroke="#3f7fc6" stroke-width="1.0" stroke-linejoin="round" />
<circle cx="529" cy="138.5" r="1.5" fill="#3f7fc6"/>
<circle cx="541.03" cy="126.95" r="1.5" fill="#3f7fc6"/>
<circle cx="553.06" cy="111.65" r="1.5" fill="#3f7fc6"/>
<circle cx="565.1" cy="99.35" r="1.5" fill="#3f7fc6"/>
<circle cx="577.13" cy="88.55" r="1.5" fill="#3f7fc6"/>
<circle cx="589.16" cy="78.8" r="1.5" fill="#3f7fc6"/>
<circle cx="601.19" cy="72.35" r="1.5" fill="#3f7fc6"/>
<circle cx="613.22" cy="66.2" r="1.5" fill="#3f7fc6"/>
<circle cx="625.26" cy="61.25" r="1.5" fill="#3f7fc6"/>
<circle cx="637.29" cy="56.75" r="1.5" fill="#3f7fc6"/>
<circle cx="649.32" cy="53" r="1.5" fill="#3f7fc6"/>
<circle cx="661.35" cy="49.55" r="1.5" fill="#3f7fc6"/>
<circle cx="673.38" cy="46.4" r="1.5" fill="#3f7fc6"/>
<polyline points="529,138.5 541.03,111.05 553.06,90.05 565.1,75.2 577.13,63.95 589.16,56.15 601.19,49.55 613.22,44.45 625.26,40.85 637.29,38 649.32,35.9 661.35,34.4 673.38,32.6" fill="none" stroke="#4fbf3f" stroke-width="1.0" stroke-linejoin="round" />
<polygon points="529,136.47 531.02,140.02 526.98,140.02" fill="#4fbf3f"/>
<polygon points="541.03,109.02 543.06,112.57 539.01,112.57" fill="#4fbf3f"/>
<polygon points="553.06,88.03 555.09,91.57 551.04,91.57" fill="#4fbf3f"/>
<polygon points="565.1,73.17 567.12,76.72 563.07,76.72" fill="#4fbf3f"/>
<polygon points="577.13,61.92 579.15,65.47 575.1,65.47" fill="#4fbf3f"/>
<polygon points="589.16,54.13 591.18,57.67 587.13,57.67" fill="#4fbf3f"/>
<polygon points="601.19,47.53 603.22,51.07 599.17,51.07" fill="#4fbf3f"/>
<polygon points="613.22,42.42 615.25,45.97 611.2,45.97" fill="#4fbf3f"/>
<polygon points="625.26,38.83 627.28,42.37 623.23,42.37" fill="#4fbf3f"/>
<polygon points="637.29,35.98 639.31,39.52 635.26,39.52" fill="#4fbf3f"/>
<polygon points="649.32,33.87 651.34,37.42 647.29,37.42" fill="#4fbf3f"/>
<polygon points="661.35,32.37 663.38,35.92 659.33,35.92" fill="#4fbf3f"/>
<polygon points="673.38,30.58 675.41,34.12 671.36,34.12" fill="#4fbf3f"/>
<rect x="531" y="19.2" width="46.5" height="29.8" fill="#000"/>
<rect x="529.4" y="17.5" width="46.4" height="30.2" fill="#fff" stroke="#d0d0d0" stroke-width="0.6"/>
<line x1="530.7" y1="23.7" x2="544.7" y2="23.7" stroke="#e8262b" stroke-width="1.1" />
<circle cx="537.5" cy="23.7" r="1.4" fill="#e8262b"/>
<text x="547.2" y="26.6" font-size="8.2" fill="#151515" font-weight="normal" text-anchor="start" >BTS800</text>
<line x1="530.7" y1="33.4" x2="544.7" y2="33.4" stroke="#3f7fc6" stroke-width="1.1" />
<circle cx="537.5" cy="33.4" r="1.4" fill="#3f7fc6"/>
<text x="547.2" y="36.3" font-size="8.2" fill="#151515" font-weight="normal" text-anchor="start" >BTS850</text>
<line x1="530.7" y1="43.1" x2="544.7" y2="43.1" stroke="#4fbf3f" stroke-width="1.1" />
<polygon points="537.5,41.21 539.39,44.52 535.61,44.52" fill="#4fbf3f"/>
<text x="547.2" y="46" font-size="8.2" fill="#151515" font-weight="normal" text-anchor="start" >BTS900</text>
<line x1="529" y1="17.5" x2="679.4" y2="17.5" stroke="#505050" stroke-width="1.2" />
<line x1="679.4" y1="16.9" x2="679.4" y2="138" stroke="#505050" stroke-width="1.2" />
<line x1="529" y1="138" x2="680" y2="138" stroke="#505050" stroke-width="1.2" />
<line x1="529" y1="16.9" x2="529" y2="138.6" stroke="#b4b4b4" stroke-width="1.3" />
<line x1="307" y1="318.3" x2="310" y2="318.3" stroke="#555" stroke-width="0.8" />
<text x="306" y="320.8" font-size="9" fill="#151515" font-weight="normal" text-anchor="end" >0</text>
<line x1="308" y1="298.08" x2="310" y2="298.08" stroke="#555" stroke-width="0.8" />
<line x1="307" y1="277.87" x2="310" y2="277.87" stroke="#555" stroke-width="0.8" />
<text x="306" y="280.37" font-size="9" fill="#151515" font-weight="normal" text-anchor="end" >200</text>
<line x1="308" y1="257.65" x2="310" y2="257.65" stroke="#555" stroke-width="0.8" />
<line x1="307" y1="237.43" x2="310" y2="237.43" stroke="#555" stroke-width="0.8" />
<text x="306" y="239.93" font-size="9" fill="#151515" font-weight="normal" text-anchor="end" >400</text>
<line x1="308" y1="217.22" x2="310" y2="217.22" stroke="#555" stroke-width="0.8" />
<line x1="307" y1="197" x2="310" y2="197" stroke="#555" stroke-width="0.8" />
<text x="306" y="199.5" font-size="9" fill="#151515" font-weight="normal" text-anchor="end" >600</text>
<line x1="460.5" y1="318.3" x2="462.3" y2="318.3" stroke="#555" stroke-width="0.8" />
<text x="463.1" y="321.3" font-size="9" fill="#151515" font-weight="normal" text-anchor="start" >0.00</text>
<line x1="460.5" y1="306.17" x2="461.7" y2="306.17" stroke="#555" stroke-width="0.8" />
<line x1="460.5" y1="294.04" x2="462.3" y2="294.04" stroke="#555" stroke-width="0.8" />
<text x="463.1" y="297.04" font-size="9" fill="#151515" font-weight="normal" text-anchor="start" >0.05</text>
<line x1="460.5" y1="281.91" x2="461.7" y2="281.91" stroke="#555" stroke-width="0.8" />
<line x1="460.5" y1="269.78" x2="462.3" y2="269.78" stroke="#555" stroke-width="0.8" />
<text x="463.1" y="272.78" font-size="9" fill="#151515" font-weight="normal" text-anchor="start" >0.10</text>
<line x1="460.5" y1="257.65" x2="461.7" y2="257.65" stroke="#555" stroke-width="0.8" />
<line x1="460.5" y1="245.52" x2="462.3" y2="245.52" stroke="#555" stroke-width="0.8" />
<text x="463.1" y="248.52" font-size="9" fill="#151515" font-weight="normal" text-anchor="start" >0.15</text>
<line x1="460.5" y1="233.39" x2="461.7" y2="233.39" stroke="#555" stroke-width="0.8" />
<line x1="460.5" y1="221.26" x2="462.3" y2="221.26" stroke="#555" stroke-width="0.8" />
<text x="463.1" y="224.26" font-size="9" fill="#151515" font-weight="normal" text-anchor="start" >0.20</text>
<line x1="460.5" y1="209.13" x2="461.7" y2="209.13" stroke="#555" stroke-width="0.8" />
<line x1="460.5" y1="197" x2="462.3" y2="197" stroke="#555" stroke-width="0.8" />
<text x="463.1" y="200" font-size="9" fill="#151515" font-weight="normal" text-anchor="start" >0.25</text>
<line x1="310" y1="318.3" x2="310" y2="321.3" stroke="#555" stroke-width="0.8" />
<text x="310" y="328.9" font-size="9" fill="#151515" font-weight="normal" text-anchor="middle" >1</text>
<line x1="325.05" y1="318.3" x2="325.05" y2="320.1" stroke="#555" stroke-width="0.8" />
<line x1="340.1" y1="318.3" x2="340.1" y2="321.3" stroke="#555" stroke-width="0.8" />
<text x="340.1" y="328.9" font-size="9" fill="#151515" font-weight="normal" text-anchor="middle" >2</text>
<line x1="355.15" y1="318.3" x2="355.15" y2="320.1" stroke="#555" stroke-width="0.8" />
<line x1="370.2" y1="318.3" x2="370.2" y2="321.3" stroke="#555" stroke-width="0.8" />
<text x="370.2" y="328.9" font-size="9" fill="#151515" font-weight="normal" text-anchor="middle" >3</text>
<line x1="385.25" y1="318.3" x2="385.25" y2="320.1" stroke="#555" stroke-width="0.8" />
<line x1="400.3" y1="318.3" x2="400.3" y2="321.3" stroke="#555" stroke-width="0.8" />
<text x="400.3" y="328.9" font-size="9" fill="#151515" font-weight="normal" text-anchor="middle" >4</text>
<line x1="415.35" y1="318.3" x2="415.35" y2="320.1" stroke="#555" stroke-width="0.8" />
<line x1="430.4" y1="318.3" x2="430.4" y2="321.3" stroke="#555" stroke-width="0.8" />
<text x="430.4" y="328.9" font-size="9" fill="#151515" font-weight="normal" text-anchor="middle" >5</text>
<line x1="445.45" y1="318.3" x2="445.45" y2="320.1" stroke="#555" stroke-width="0.8" />
<line x1="460.5" y1="318.3" x2="460.5" y2="321.3" stroke="#555" stroke-width="0.8" />
<text x="460.5" y="328.9" font-size="9" fill="#151515" font-weight="normal" text-anchor="middle" >6</text>
<text x="385.5" y="341.6" font-size="13.7" fill="#151515" font-weight="normal" text-anchor="middle" >Frequency (GHz)</text>
<text transform="translate(286.9,257.6) rotate(-90) scale(1.2,1)" font-size="14" fill="#111" text-anchor="middle">ε′</text>
<text transform="translate(491.6,255) rotate(-90)" font-size="12.6" fill="#151515" text-anchor="middle">Tan δ</text>
<defs><clipPath id="clipe"><rect x="310" y="197" width="150.5" height="121.30000000000001"/></clipPath></defs><g clip-path="url(#clipe)">
<polyline points="310,218.3 313.01,218.45 316.02,218.6 319.03,218.75 322.04,218.91 325.05,219.06 328.06,219.2 331.07,219.34 334.08,219.46 337.09,219.58 340.1,219.71 343.11,219.84 346.12,219.97 349.13,220.08 352.14,220.18 355.15,220.25 358.16,220.29 361.17,220.3 364.18,220.29 367.19,220.26 370.2,220.22 373.21,220.17 376.22,220.11 379.23,220.04 382.24,219.97 385.25,219.89 388.26,219.77 391.27,219.59 394.28,219.38 397.29,219.17 400.3,218.98 403.31,218.84 406.32,218.71 409.33,218.57 412.34,218.38 415.35,218.06 418.36,217.49 421.37,216.81 424.38,216.12 427.39,215.56 430.4,215.06 433.41,214.58 436.42,214.1 439.43,213.58 442.44,212.98 445.45,212.27 448.46,211.04 451.47,209.46 454.48,208.6 457.49,209.2 460.5,210.3" fill="none" stroke="#e8262b" stroke-width="1.0" stroke-linejoin="round" />
<circle cx="310" cy="218.3" r="1.35" fill="#e8262b"/>
<circle cx="313.01" cy="218.45" r="1.35" fill="#e8262b"/>
<circle cx="316.02" cy="218.6" r="1.35" fill="#e8262b"/>
<circle cx="319.03" cy="218.75" r="1.35" fill="#e8262b"/>
<circle cx="322.04" cy="218.91" r="1.35" fill="#e8262b"/>
<circle cx="325.05" cy="219.06" r="1.35" fill="#e8262b"/>
<circle cx="328.06" cy="219.2" r="1.35" fill="#e8262b"/>
<circle cx="331.07" cy="219.34" r="1.35" fill="#e8262b"/>
<circle cx="334.08" cy="219.46" r="1.35" fill="#e8262b"/>
<circle cx="337.09" cy="219.58" r="1.35" fill="#e8262b"/>
<circle cx="340.1" cy="219.71" r="1.35" fill="#e8262b"/>
<circle cx="343.11" cy="219.84" r="1.35" fill="#e8262b"/>
<circle cx="346.12" cy="219.97" r="1.35" fill="#e8262b"/>
<circle cx="349.13" cy="220.08" r="1.35" fill="#e8262b"/>
<circle cx="352.14" cy="220.18" r="1.35" fill="#e8262b"/>
<circle cx="355.15" cy="220.25" r="1.35" fill="#e8262b"/>
<circle cx="358.16" cy="220.29" r="1.35" fill="#e8262b"/>
<circle cx="361.17" cy="220.3" r="1.35" fill="#e8262b"/>
<circle cx="364.18" cy="220.29" r="1.35" fill="#e8262b"/>
<circle cx="367.19" cy="220.26" r="1.35" fill="#e8262b"/>
<circle cx="370.2" cy="220.22" r="1.35" fill="#e8262b"/>
<circle cx="373.21" cy="220.17" r="1.35" fill="#e8262b"/>
<circle cx="376.22" cy="220.11" r="1.35" fill="#e8262b"/>
<circle cx="379.23" cy="220.04" r="1.35" fill="#e8262b"/>
<circle cx="382.24" cy="219.97" r="1.35" fill="#e8262b"/>
<circle cx="385.25" cy="219.89" r="1.35" fill="#e8262b"/>
<circle cx="388.26" cy="219.77" r="1.35" fill="#e8262b"/>
<circle cx="391.27" cy="219.59" r="1.35" fill="#e8262b"/>
<circle cx="394.28" cy="219.38" r="1.35" fill="#e8262b"/>
<circle cx="397.29" cy="219.17" r="1.35" fill="#e8262b"/>
<circle cx="400.3" cy="218.98" r="1.35" fill="#e8262b"/>
<circle cx="403.31" cy="218.84" r="1.35" fill="#e8262b"/>
<circle cx="406.32" cy="218.71" r="1.35" fill="#e8262b"/>
<circle cx="409.33" cy="218.57" r="1.35" fill="#e8262b"/>
<circle cx="412.34" cy="218.38" r="1.35" fill="#e8262b"/>
<circle cx="415.35" cy="218.06" r="1.35" fill="#e8262b"/>
<circle cx="418.36" cy="217.49" r="1.35" fill="#e8262b"/>
<circle cx="421.37" cy="216.81" r="1.35" fill="#e8262b"/>
<circle cx="424.38" cy="216.12" r="1.35" fill="#e8262b"/>
<circle cx="427.39" cy="215.56" r="1.35" fill="#e8262b"/>
<circle cx="430.4" cy="215.06" r="1.35" fill="#e8262b"/>
<circle cx="433.41" cy="214.58" r="1.35" fill="#e8262b"/>
<circle cx="436.42" cy="214.1" r="1.35" fill="#e8262b"/>
<circle cx="439.43" cy="213.58" r="1.35" fill="#e8262b"/>
<circle cx="442.44" cy="212.98" r="1.35" fill="#e8262b"/>
<circle cx="445.45" cy="212.27" r="1.35" fill="#e8262b"/>
<circle cx="448.46" cy="211.04" r="1.35" fill="#e8262b"/>
<circle cx="451.47" cy="209.46" r="1.35" fill="#e8262b"/>
<circle cx="454.48" cy="208.6" r="1.35" fill="#e8262b"/>
<circle cx="457.49" cy="209.2" r="1.35" fill="#e8262b"/>
<circle cx="460.5" cy="210.3" r="1.35" fill="#e8262b"/>
<polyline points="310,250.3 313.01,250.35 316.02,250.41 319.03,250.47 322.04,250.52 325.05,250.57 328.06,250.59 331.07,250.6 334.08,250.57 337.09,250.5 340.1,250.38 343.11,250.19 346.12,247.96 349.13,240.89 352.14,242.83 355.15,250.1 358.16,250.95 361.17,251.45 364.18,252.01 367.19,253.01 370.2,254.25 373.21,254.6 376.22,254.69 379.23,254.54 382.24,254.22 385.25,253.8 388.26,253.35 391.27,252.9 394.28,252.32 397.29,251.71 400.3,251.27 403.31,251 406.32,250.81 409.33,250.6 412.34,250.28 415.35,249.74 418.36,248.92 421.37,247.21 424.38,245.23 427.39,247.17 430.4,250.3 433.41,251.9 436.42,252.7 439.43,252.43 442.44,252.1 445.45,251.77 448.46,251.32 451.47,250.31 454.48,249.02 457.49,248.73 460.5,250.3" fill="none" stroke="#3f7fc6" stroke-width="1.0" stroke-linejoin="round" />
<circle cx="310" cy="250.3" r="1.35" fill="#3f7fc6"/>
<circle cx="313.01" cy="250.35" r="1.35" fill="#3f7fc6"/>
<circle cx="316.02" cy="250.41" r="1.35" fill="#3f7fc6"/>
<circle cx="319.03" cy="250.47" r="1.35" fill="#3f7fc6"/>
<circle cx="322.04" cy="250.52" r="1.35" fill="#3f7fc6"/>
<circle cx="325.05" cy="250.57" r="1.35" fill="#3f7fc6"/>
<circle cx="328.06" cy="250.59" r="1.35" fill="#3f7fc6"/>
<circle cx="331.07" cy="250.6" r="1.35" fill="#3f7fc6"/>
<circle cx="334.08" cy="250.57" r="1.35" fill="#3f7fc6"/>
<circle cx="337.09" cy="250.5" r="1.35" fill="#3f7fc6"/>
<circle cx="340.1" cy="250.38" r="1.35" fill="#3f7fc6"/>
<circle cx="343.11" cy="250.19" r="1.35" fill="#3f7fc6"/>
<circle cx="346.12" cy="247.96" r="1.35" fill="#3f7fc6"/>
<circle cx="349.13" cy="240.89" r="1.35" fill="#3f7fc6"/>
<circle cx="352.14" cy="242.83" r="1.35" fill="#3f7fc6"/>
<circle cx="355.15" cy="250.1" r="1.35" fill="#3f7fc6"/>
<circle cx="358.16" cy="250.95" r="1.35" fill="#3f7fc6"/>
<circle cx="361.17" cy="251.45" r="1.35" fill="#3f7fc6"/>
<circle cx="364.18" cy="252.01" r="1.35" fill="#3f7fc6"/>
<circle cx="367.19" cy="253.01" r="1.35" fill="#3f7fc6"/>
<circle cx="370.2" cy="254.25" r="1.35" fill="#3f7fc6"/>
<circle cx="373.21" cy="254.6" r="1.35" fill="#3f7fc6"/>
<circle cx="376.22" cy="254.69" r="1.35" fill="#3f7fc6"/>
<circle cx="379.23" cy="254.54" r="1.35" fill="#3f7fc6"/>
<circle cx="382.24" cy="254.22" r="1.35" fill="#3f7fc6"/>
<circle cx="385.25" cy="253.8" r="1.35" fill="#3f7fc6"/>
<circle cx="388.26" cy="253.35" r="1.35" fill="#3f7fc6"/>
<circle cx="391.27" cy="252.9" r="1.35" fill="#3f7fc6"/>
<circle cx="394.28" cy="252.32" r="1.35" fill="#3f7fc6"/>
<circle cx="397.29" cy="251.71" r="1.35" fill="#3f7fc6"/>
<circle cx="400.3" cy="251.27" r="1.35" fill="#3f7fc6"/>
<circle cx="403.31" cy="251" r="1.35" fill="#3f7fc6"/>
<circle cx="406.32" cy="250.81" r="1.35" fill="#3f7fc6"/>
<circle cx="409.33" cy="250.6" r="1.35" fill="#3f7fc6"/>
<circle cx="412.34" cy="250.28" r="1.35" fill="#3f7fc6"/>
<circle cx="415.35" cy="249.74" r="1.35" fill="#3f7fc6"/>
<circle cx="418.36" cy="248.92" r="1.35" fill="#3f7fc6"/>
<circle cx="421.37" cy="247.21" r="1.35" fill="#3f7fc6"/>
<circle cx="424.38" cy="245.23" r="1.35" fill="#3f7fc6"/>
<circle cx="427.39" cy="247.17" r="1.35" fill="#3f7fc6"/>
<circle cx="430.4" cy="250.3" r="1.35" fill="#3f7fc6"/>
<circle cx="433.41" cy="251.9" r="1.35" fill="#3f7fc6"/>
<circle cx="436.42" cy="252.7" r="1.35" fill="#3f7fc6"/>
<circle cx="439.43" cy="252.43" r="1.35" fill="#3f7fc6"/>
<circle cx="442.44" cy="252.1" r="1.35" fill="#3f7fc6"/>
<circle cx="445.45" cy="251.77" r="1.35" fill="#3f7fc6"/>
<circle cx="448.46" cy="251.32" r="1.35" fill="#3f7fc6"/>
<circle cx="451.47" cy="250.31" r="1.35" fill="#3f7fc6"/>
<circle cx="454.48" cy="249.02" r="1.35" fill="#3f7fc6"/>
<circle cx="457.49" cy="248.73" r="1.35" fill="#3f7fc6"/>
<circle cx="460.5" cy="250.3" r="1.35" fill="#3f7fc6"/>
<polyline points="310,270.6 313.01,270.66 316.02,270.71 319.03,270.77 322.04,270.82 325.05,270.88 328.06,270.95 331.07,271.03 334.08,271.17 337.09,271.32 340.1,271.45 343.11,271.5 346.12,268.61 349.13,258.61 352.14,261.4 355.15,268.35 358.16,270.58 361.17,271.7 364.18,272.25 367.19,273.14 370.2,274.09 373.21,274.1 376.22,274.1 379.23,274.09 382.24,273.83 385.25,273.36 388.26,272.89 391.27,272.6 394.28,272.41 397.29,272.24 400.3,272.08 403.31,271.95 406.32,271.84 409.33,271.7 412.34,271.49 415.35,271.09 418.36,270.38 421.37,268.54 424.38,266.13 427.39,267.58 430.4,270.5 433.41,273.62 436.42,275.6 439.43,275.35 442.44,274.74 445.45,274.07 448.46,273.61 451.47,273.41 454.48,273.26 457.49,273.14 460.5,273" fill="none" stroke="#4fbf3f" stroke-width="1.0" stroke-linejoin="round" />
<polygon points="310,268.78 311.82,271.97 308.18,271.97" fill="#4fbf3f"/>
<polygon points="313.01,268.84 314.83,272.02 311.19,272.02" fill="#4fbf3f"/>
<polygon points="316.02,268.89 317.84,272.08 314.2,272.08" fill="#4fbf3f"/>
<polygon points="319.03,268.94 320.85,272.13 317.21,272.13" fill="#4fbf3f"/>
<polygon points="322.04,269 323.86,272.19 320.22,272.19" fill="#4fbf3f"/>
<polygon points="325.05,269.06 326.87,272.25 323.23,272.25" fill="#4fbf3f"/>
<polygon points="328.06,269.13 329.88,272.32 326.24,272.32" fill="#4fbf3f"/>
<polygon points="331.07,269.21 332.89,272.4 329.25,272.4" fill="#4fbf3f"/>
<polygon points="334.08,269.35 335.9,272.54 332.26,272.54" fill="#4fbf3f"/>
<polygon points="337.09,269.5 338.91,272.69 335.27,272.69" fill="#4fbf3f"/>
<polygon points="340.1,269.63 341.92,272.82 338.28,272.82" fill="#4fbf3f"/>
<polygon points="343.11,269.67 344.93,272.86 341.29,272.86" fill="#4fbf3f"/>
<polygon points="346.12,266.79 347.94,269.98 344.3,269.98" fill="#4fbf3f"/>
<polygon points="349.13,256.79 350.95,259.98 347.31,259.98" fill="#4fbf3f"/>
<polygon points="352.14,259.57 353.96,262.76 350.32,262.76" fill="#4fbf3f"/>
<polygon points="355.15,266.52 356.97,269.71 353.33,269.71" fill="#4fbf3f"/>
<polygon points="358.16,268.75 359.98,271.94 356.34,271.94" fill="#4fbf3f"/>
<polygon points="361.17,269.88 362.99,273.07 359.35,273.07" fill="#4fbf3f"/>
<polygon points="364.18,270.42 366,273.61 362.36,273.61" fill="#4fbf3f"/>
<polygon points="367.19,271.31 369.01,274.5 365.37,274.5" fill="#4fbf3f"/>
<polygon points="370.2,272.27 372.02,275.45 368.38,275.45" fill="#4fbf3f"/>
<polygon points="373.21,272.28 375.03,275.47 371.39,275.47" fill="#4fbf3f"/>
<polygon points="376.22,272.28 378.04,275.47 374.4,275.47" fill="#4fbf3f"/>
<polygon points="379.23,272.27 381.05,275.46 377.41,275.46" fill="#4fbf3f"/>
<polygon points="382.24,272 384.06,275.19 380.42,275.19" fill="#4fbf3f"/>
<polygon points="385.25,271.53 387.07,274.72 383.43,274.72" fill="#4fbf3f"/>
<polygon points="388.26,271.07 390.08,274.25 386.44,274.25" fill="#4fbf3f"/>
<polygon points="391.27,270.78 393.09,273.97 389.45,273.97" fill="#4fbf3f"/>
<polygon points="394.28,270.59 396.1,273.78 392.46,273.78" fill="#4fbf3f"/>
<polygon points="397.29,270.42 399.11,273.61 395.47,273.61" fill="#4fbf3f"/>
<polygon points="400.3,270.26 402.12,273.45 398.48,273.45" fill="#4fbf3f"/>
<polygon points="403.31,270.13 405.13,273.32 401.49,273.32" fill="#4fbf3f"/>
<polygon points="406.32,270.01 408.14,273.2 404.5,273.2" fill="#4fbf3f"/>
<polygon points="409.33,269.87 411.15,273.06 407.51,273.06" fill="#4fbf3f"/>
<polygon points="412.34,269.67 414.16,272.85 410.52,272.85" fill="#4fbf3f"/>
<polygon points="415.35,269.26 417.17,272.45 413.53,272.45" fill="#4fbf3f"/>
<polygon points="418.36,268.56 420.18,271.75 416.54,271.75" fill="#4fbf3f"/>
<polygon points="421.37,266.71 423.19,269.9 419.55,269.9" fill="#4fbf3f"/>
<polygon points="424.38,264.31 426.2,267.5 422.56,267.5" fill="#4fbf3f"/>
<polygon points="427.39,265.75 429.21,268.94 425.57,268.94" fill="#4fbf3f"/>
<polygon points="430.4,268.68 432.22,271.87 428.58,271.87" fill="#4fbf3f"/>
<polygon points="433.41,271.8 435.23,274.99 431.59,274.99" fill="#4fbf3f"/>
<polygon points="436.42,273.78 438.24,276.97 434.6,276.97" fill="#4fbf3f"/>
<polygon points="439.43,273.52 441.25,276.71 437.61,276.71" fill="#4fbf3f"/>
<polygon points="442.44,272.92 444.26,276.11 440.62,276.11" fill="#4fbf3f"/>
<polygon points="445.45,272.25 447.27,275.44 443.63,275.44" fill="#4fbf3f"/>
<polygon points="448.46,271.79 450.28,274.98 446.64,274.98" fill="#4fbf3f"/>
<polygon points="451.47,271.59 453.29,274.78 449.65,274.78" fill="#4fbf3f"/>
<polygon points="454.48,271.44 456.3,274.63 452.66,274.63" fill="#4fbf3f"/>
<polygon points="457.49,271.31 459.31,274.5 455.67,274.5" fill="#4fbf3f"/>
<polygon points="460.5,271.18 462.32,274.37 458.68,274.37" fill="#4fbf3f"/>
<polyline points="310,287.4 313.01,287.43 316.02,287.46 319.03,287.49 322.04,287.52 325.05,287.55 328.06,287.58 331.07,287.61 334.08,287.64 337.09,287.67 340.1,287.69 343.11,287.7 346.12,285.47 349.13,280.62 352.14,281.75 355.15,285.64 358.16,287.85 361.17,289.31 364.18,290.36 367.19,291.18 370.2,291.69 373.21,291.21 376.22,290.18 379.23,289.67 382.24,289.56 385.25,289.49 388.26,289.44 391.27,289.37 394.28,289.32 397.29,289.27 400.3,289.19 403.31,288.96 406.32,288.57 409.33,288.11 412.34,287.68 415.35,287.33 418.36,286.89 421.37,285.74 424.38,284.32 427.39,285.49 430.4,287.7 433.41,289.64 436.42,290.8 439.43,290.73 442.44,290.57 445.45,290.37 448.46,290.21 451.47,290.09 454.48,289.99 457.49,289.9 460.5,289.8" fill="none" stroke="#9b3fc3" stroke-width="1.0" stroke-linejoin="round" />
<polygon points="310,289.22 311.82,286.03 308.18,286.03" fill="#9b3fc3"/>
<polygon points="313.01,289.25 314.83,286.06 311.19,286.06" fill="#9b3fc3"/>
<polygon points="316.02,289.28 317.84,286.1 314.2,286.1" fill="#9b3fc3"/>
<polygon points="319.03,289.32 320.85,286.13 317.21,286.13" fill="#9b3fc3"/>
<polygon points="322.04,289.35 323.86,286.16 320.22,286.16" fill="#9b3fc3"/>
<polygon points="325.05,289.38 326.87,286.19 323.23,286.19" fill="#9b3fc3"/>
<polygon points="328.06,289.41 329.88,286.22 326.24,286.22" fill="#9b3fc3"/>
<polygon points="331.07,289.43 332.89,286.24 329.25,286.24" fill="#9b3fc3"/>
<polygon points="334.08,289.46 335.9,286.27 332.26,286.27" fill="#9b3fc3"/>
<polygon points="337.09,289.49 338.91,286.3 335.27,286.3" fill="#9b3fc3"/>
<polygon points="340.1,289.51 341.92,286.32 338.28,286.32" fill="#9b3fc3"/>
<polygon points="343.11,289.52 344.93,286.33 341.29,286.33" fill="#9b3fc3"/>
<polygon points="346.12,287.29 347.94,284.1 344.3,284.1" fill="#9b3fc3"/>
<polygon points="349.13,282.45 350.95,279.26 347.31,279.26" fill="#9b3fc3"/>
<polygon points="352.14,283.58 353.96,280.39 350.32,280.39" fill="#9b3fc3"/>
<polygon points="355.15,287.46 356.97,284.27 353.33,284.27" fill="#9b3fc3"/>
<polygon points="358.16,289.67 359.98,286.48 356.34,286.48" fill="#9b3fc3"/>
<polygon points="361.17,291.13 362.99,287.94 359.35,287.94" fill="#9b3fc3"/>
<polygon points="364.18,292.18 366,288.99 362.36,288.99" fill="#9b3fc3"/>
<polygon points="367.19,293 369.01,289.81 365.37,289.81" fill="#9b3fc3"/>
<polygon points="370.2,293.52 372.02,290.33 368.38,290.33" fill="#9b3fc3"/>
<polygon points="373.21,293.03 375.03,289.84 371.39,289.84" fill="#9b3fc3"/>
<polygon points="376.22,292 378.04,288.81 374.4,288.81" fill="#9b3fc3"/>
<polygon points="379.23,291.49 381.05,288.3 377.41,288.3" fill="#9b3fc3"/>
<polygon points="382.24,291.38 384.06,288.19 380.42,288.19" fill="#9b3fc3"/>
<polygon points="385.25,291.31 387.07,288.13 383.43,288.13" fill="#9b3fc3"/>
<polygon points="388.26,291.26 390.08,288.07 386.44,288.07" fill="#9b3fc3"/>
<polygon points="391.27,291.2 393.09,288.01 389.45,288.01" fill="#9b3fc3"/>
<polygon points="394.28,291.15 396.1,287.96 392.46,287.96" fill="#9b3fc3"/>
<polygon points="397.29,291.09 399.11,287.91 395.47,287.91" fill="#9b3fc3"/>
<polygon points="400.3,291.01 402.12,287.82 398.48,287.82" fill="#9b3fc3"/>
<polygon points="403.31,290.78 405.13,287.59 401.49,287.59" fill="#9b3fc3"/>
<polygon points="406.32,290.39 408.14,287.2 404.5,287.2" fill="#9b3fc3"/>
<polygon points="409.33,289.94 411.15,286.75 407.51,286.75" fill="#9b3fc3"/>
<polygon points="412.34,289.5 414.16,286.31 410.52,286.31" fill="#9b3fc3"/>
<polygon points="415.35,289.15 417.17,285.96 413.53,285.96" fill="#9b3fc3"/>
<polygon points="418.36,288.71 420.18,285.52 416.54,285.52" fill="#9b3fc3"/>
<polygon points="421.37,287.56 423.19,284.37 419.55,284.37" fill="#9b3fc3"/>
<polygon points="424.38,286.14 426.2,282.95 422.56,282.95" fill="#9b3fc3"/>
<polygon points="427.39,287.31 429.21,284.12 425.57,284.12" fill="#9b3fc3"/>
<polygon points="430.4,289.52 432.22,286.33 428.58,286.33" fill="#9b3fc3"/>
<polygon points="433.41,291.47 435.23,288.28 431.59,288.28" fill="#9b3fc3"/>
<polygon points="436.42,292.62 438.24,289.43 434.6,289.43" fill="#9b3fc3"/>
<polygon points="439.43,292.56 441.25,289.37 437.61,289.37" fill="#9b3fc3"/>
<polygon points="442.44,292.39 444.26,289.2 440.62,289.2" fill="#9b3fc3"/>
<polygon points="445.45,292.19 447.27,289 443.63,289" fill="#9b3fc3"/>
<polygon points="448.46,292.03 450.28,288.84 446.64,288.84" fill="#9b3fc3"/>
<polygon points="451.47,291.92 453.29,288.73 449.65,288.73" fill="#9b3fc3"/>
<polygon points="454.48,291.82 456.3,288.63 452.66,288.63" fill="#9b3fc3"/>
<polygon points="457.49,291.72 459.31,288.53 455.67,288.53" fill="#9b3fc3"/>
<polygon points="460.5,291.62 462.32,288.43 458.68,288.43" fill="#9b3fc3"/>
<polyline points="310,304.6 313.01,304.69 316.02,304.78 319.03,304.87 322.04,304.97 325.05,305.06 328.06,305.15 331.07,305.25 334.08,305.34 337.09,305.43 340.1,305.53 343.11,305.62 346.12,305.71 349.13,305.81 352.14,305.9 355.15,305.99 358.16,306.08 361.17,306.17 364.18,306.26 367.19,306.35 370.2,306.44 373.21,306.53 376.22,306.62 379.23,306.7 382.24,306.79 385.25,306.87 388.26,306.95 391.27,307.03 394.28,307.11 397.29,307.19 400.3,307.27 403.31,307.34 406.32,307.42 409.33,307.49 412.34,307.57 415.35,307.64 418.36,307.71 421.37,307.78 424.38,307.85 427.39,307.92 430.4,307.99 433.41,308.06 436.42,308.13 439.43,308.2 442.44,308.27 445.45,308.34 448.46,308.41 451.47,308.48 454.48,308.56 457.49,308.63 460.5,308.7" fill="none" stroke="#e8262b" stroke-width="1.0" stroke-linejoin="round" />
<circle cx="310" cy="304.6" r="1.35" fill="#e8262b"/>
<circle cx="313.01" cy="304.69" r="1.35" fill="#e8262b"/>
<circle cx="316.02" cy="304.78" r="1.35" fill="#e8262b"/>
<circle cx="319.03" cy="304.87" r="1.35" fill="#e8262b"/>
<circle cx="322.04" cy="304.97" r="1.35" fill="#e8262b"/>
<circle cx="325.05" cy="305.06" r="1.35" fill="#e8262b"/>
<circle cx="328.06" cy="305.15" r="1.35" fill="#e8262b"/>
<circle cx="331.07" cy="305.25" r="1.35" fill="#e8262b"/>
<circle cx="334.08" cy="305.34" r="1.35" fill="#e8262b"/>
<circle cx="337.09" cy="305.43" r="1.35" fill="#e8262b"/>
<circle cx="340.1" cy="305.53" r="1.35" fill="#e8262b"/>
<circle cx="343.11" cy="305.62" r="1.35" fill="#e8262b"/>
<circle cx="346.12" cy="305.71" r="1.35" fill="#e8262b"/>
<circle cx="349.13" cy="305.81" r="1.35" fill="#e8262b"/>
<circle cx="352.14" cy="305.9" r="1.35" fill="#e8262b"/>
<circle cx="355.15" cy="305.99" r="1.35" fill="#e8262b"/>
<circle cx="358.16" cy="306.08" r="1.35" fill="#e8262b"/>
<circle cx="361.17" cy="306.17" r="1.35" fill="#e8262b"/>
<circle cx="364.18" cy="306.26" r="1.35" fill="#e8262b"/>
<circle cx="367.19" cy="306.35" r="1.35" fill="#e8262b"/>
<circle cx="370.2" cy="306.44" r="1.35" fill="#e8262b"/>
<circle cx="373.21" cy="306.53" r="1.35" fill="#e8262b"/>
<circle cx="376.22" cy="306.62" r="1.35" fill="#e8262b"/>
<circle cx="379.23" cy="306.7" r="1.35" fill="#e8262b"/>
<circle cx="382.24" cy="306.79" r="1.35" fill="#e8262b"/>
<circle cx="385.25" cy="306.87" r="1.35" fill="#e8262b"/>
<circle cx="388.26" cy="306.95" r="1.35" fill="#e8262b"/>
<circle cx="391.27" cy="307.03" r="1.35" fill="#e8262b"/>
<circle cx="394.28" cy="307.11" r="1.35" fill="#e8262b"/>
<circle cx="397.29" cy="307.19" r="1.35" fill="#e8262b"/>
<circle cx="400.3" cy="307.27" r="1.35" fill="#e8262b"/>
<circle cx="403.31" cy="307.34" r="1.35" fill="#e8262b"/>
<circle cx="406.32" cy="307.42" r="1.35" fill="#e8262b"/>
<circle cx="409.33" cy="307.49" r="1.35" fill="#e8262b"/>
<circle cx="412.34" cy="307.57" r="1.35" fill="#e8262b"/>
<circle cx="415.35" cy="307.64" r="1.35" fill="#e8262b"/>
<circle cx="418.36" cy="307.71" r="1.35" fill="#e8262b"/>
<circle cx="421.37" cy="307.78" r="1.35" fill="#e8262b"/>
<circle cx="424.38" cy="307.85" r="1.35" fill="#e8262b"/>
<circle cx="427.39" cy="307.92" r="1.35" fill="#e8262b"/>
<circle cx="430.4" cy="307.99" r="1.35" fill="#e8262b"/>
<circle cx="433.41" cy="308.06" r="1.35" fill="#e8262b"/>
<circle cx="436.42" cy="308.13" r="1.35" fill="#e8262b"/>
<circle cx="439.43" cy="308.2" r="1.35" fill="#e8262b"/>
<circle cx="442.44" cy="308.27" r="1.35" fill="#e8262b"/>
<circle cx="445.45" cy="308.34" r="1.35" fill="#e8262b"/>
<circle cx="448.46" cy="308.41" r="1.35" fill="#e8262b"/>
<circle cx="451.47" cy="308.48" r="1.35" fill="#e8262b"/>
<circle cx="454.48" cy="308.56" r="1.35" fill="#e8262b"/>
<circle cx="457.49" cy="308.63" r="1.35" fill="#e8262b"/>
<circle cx="460.5" cy="308.7" r="1.35" fill="#e8262b"/>
</g>
<text x="311.6" y="215.3" font-size="10.8" fill="#151515" font-weight="normal" text-anchor="start" >0 V</text>
<text x="311.6" y="246.6" font-size="10.8" fill="#151515" font-weight="normal" text-anchor="start" >5 V</text>
<text x="311.6" y="266.4" font-size="10.8" fill="#151515" font-weight="normal" text-anchor="start" >10 V</text>
<text x="311.6" y="283.4" font-size="10.8" fill="#151515" font-weight="normal" text-anchor="start" >15 V</text>
<text x="311.6" y="302.6" font-size="10.8" fill="#151515" font-weight="normal" text-anchor="start" >0 V</text>
<line x1="310" y1="197" x2="460.5" y2="197" stroke="#b4b4b4" stroke-width="1.2" />
<line x1="460.5" y1="196.4" x2="460.5" y2="318.3" stroke="#b4b4b4" stroke-width="1.2" />
<line x1="310" y1="318.3" x2="461.1" y2="318.3" stroke="#505050" stroke-width="1.2" />
<line x1="310" y1="196.4" x2="310" y2="318.9" stroke="#7a7a7a" stroke-width="1.3" />
<ellipse cx="384.5" cy="249.7" rx="10.5" ry="45.7" fill="none" stroke="#000" stroke-width="1.15" stroke-dasharray="4.6,2.4"/>
<ellipse cx="421.5" cy="305.6" rx="5" ry="10" fill="none" stroke="#000" stroke-width="1.15" stroke-dasharray="4.6,2.4"/>
<line x1="376" y1="207.8" x2="362.7" y2="207.8" stroke="#000" stroke-width="1.7" />
<polygon points="358.7,207.8 367.1,203.6 364.5,207.8 367.1,212" fill="#000" />
<line x1="426.5" y1="298" x2="439.7" y2="298" stroke="#000" stroke-width="1.7" />
<polygon points="443.7,298 435.3,302.2 437.9,298 435.3,293.8" fill="#000" />
<line x1="526" y1="310.3" x2="529" y2="310.3" stroke="#555" stroke-width="0.8" />
<text x="525" y="312.8" font-size="9" fill="#151515" font-weight="normal" text-anchor="end" >20</text>
<line x1="527" y1="296.15" x2="529" y2="296.15" stroke="#555" stroke-width="0.8" />
<line x1="526" y1="282" x2="529" y2="282" stroke="#555" stroke-width="0.8" />
<text x="525" y="284.5" font-size="9" fill="#151515" font-weight="normal" text-anchor="end" >40</text>
<line x1="527" y1="267.85" x2="529" y2="267.85" stroke="#555" stroke-width="0.8" />
<line x1="526" y1="253.7" x2="529" y2="253.7" stroke="#555" stroke-width="0.8" />
<text x="525" y="256.2" font-size="9" fill="#151515" font-weight="normal" text-anchor="end" >60</text>
<line x1="527" y1="239.55" x2="529" y2="239.55" stroke="#555" stroke-width="0.8" />
<line x1="526" y1="225.4" x2="529" y2="225.4" stroke="#555" stroke-width="0.8" />
<text x="525" y="227.9" font-size="9" fill="#151515" font-weight="normal" text-anchor="end" >80</text>
<line x1="527" y1="211.25" x2="529" y2="211.25" stroke="#555" stroke-width="0.8" />
<line x1="526" y1="197.1" x2="529" y2="197.1" stroke="#555" stroke-width="0.8" />
<text x="525" y="199.6" font-size="9" fill="#151515" font-weight="normal" text-anchor="end" >100</text>
<line x1="529" y1="318.3" x2="529" y2="321.3" stroke="#555" stroke-width="0.8" />
<text x="529" y="328.9" font-size="9" fill="#151515" font-weight="normal" text-anchor="middle" >1</text>
<line x1="544.04" y1="318.3" x2="544.04" y2="320.1" stroke="#555" stroke-width="0.8" />
<line x1="559.08" y1="318.3" x2="559.08" y2="321.3" stroke="#555" stroke-width="0.8" />
<text x="559.08" y="328.9" font-size="9" fill="#151515" font-weight="normal" text-anchor="middle" >2</text>
<line x1="574.12" y1="318.3" x2="574.12" y2="320.1" stroke="#555" stroke-width="0.8" />
<line x1="589.16" y1="318.3" x2="589.16" y2="321.3" stroke="#555" stroke-width="0.8" />
<text x="589.16" y="328.9" font-size="9" fill="#151515" font-weight="normal" text-anchor="middle" >3</text>
<line x1="604.2" y1="318.3" x2="604.2" y2="320.1" stroke="#555" stroke-width="0.8" />
<line x1="619.24" y1="318.3" x2="619.24" y2="321.3" stroke="#555" stroke-width="0.8" />
<text x="619.24" y="328.9" font-size="9" fill="#151515" font-weight="normal" text-anchor="middle" >4</text>
<line x1="634.28" y1="318.3" x2="634.28" y2="320.1" stroke="#555" stroke-width="0.8" />
<line x1="649.32" y1="318.3" x2="649.32" y2="321.3" stroke="#555" stroke-width="0.8" />
<text x="649.32" y="328.9" font-size="9" fill="#151515" font-weight="normal" text-anchor="middle" >5</text>
<line x1="664.36" y1="318.3" x2="664.36" y2="320.1" stroke="#555" stroke-width="0.8" />
<line x1="679.4" y1="318.3" x2="679.4" y2="321.3" stroke="#555" stroke-width="0.8" />
<text x="679.4" y="328.9" font-size="9" fill="#151515" font-weight="normal" text-anchor="middle" >6</text>
<text x="604.3" y="341.6" font-size="13.7" fill="#151515" font-weight="normal" text-anchor="middle" >Frequency (GHz)</text>
<text transform="translate(507,255) rotate(-90)" font-size="13.2" fill="#151515" text-anchor="middle">Tunability (%)</text>
<defs><clipPath id="clipf"><rect x="529" y="197" width="150.39999999999998" height="121.30000000000001"/></clipPath></defs><g clip-path="url(#clipf)">
<polyline points="529,293.6 530,293.66 531.01,293.72 532.01,293.79 533.01,293.86 534.01,293.94 535.02,294.01 536.02,294.09 537.02,294.17 538.02,294.24 539.03,294.32 540.03,294.39 541.03,294.46 542.03,294.52 543.04,294.58 544.04,294.63 545.04,294.68 546.05,294.72 547.05,294.76 548.05,294.78 549.05,294.8 550.06,294.8 551.06,294.78 552.06,294.72 553.06,294.63 554.07,294.53 555.07,294.42 556.07,294.3 557.07,294.19 558.08,294.1 559.08,294.04 560.08,294 561.09,294.14 562.09,294.77 563.09,295.8 564.09,297.11 565.1,299.36 566.1,303.06 567.1,306.25 568.1,309.14 569.11,310.38 570.11,308.59 571.11,305.32 572.11,301.55 573.12,297.34 574.12,295.21 575.12,293.71 576.13,293.21 577.13,293.52 578.13,293.93 579.13,293.87 580.14,293.16 581.14,292.31 582.14,291.6 583.14,290.82 584.15,290.05 585.15,289.38 586.15,288.9 587.15,288.64 588.16,288.42 589.16,288.23 590.16,288.09 591.17,288.01 592.17,288.01 593.17,288.13 594.17,288.34 595.18,288.62 596.18,288.95 597.18,289.29 598.18,289.62 599.19,289.91 600.19,290.14 601.19,290.35 602.19,290.56 603.2,290.77 604.2,290.97 605.2,291.18 606.21,291.37 607.21,291.56 608.21,291.75 609.21,291.92 610.22,292.08 611.22,292.22 612.22,292.35 613.22,292.46 614.23,292.55 615.23,292.61 616.23,292.67 617.23,292.72 618.24,292.75 619.24,292.79 620.24,292.82 621.25,292.85 622.25,292.88 623.25,292.91 624.25,292.94 625.26,292.97 626.26,293.01 627.26,293.06 628.26,293.12 629.27,293.17 630.27,293.24 631.27,293.31 632.27,293.4 633.28,293.51 634.28,293.64 635.28,293.8 636.29,294.05 637.29,294.61 638.29,295.38 639.29,296.2 640.3,297 641.3,298 642.3,298.84 643.3,299.08 644.31,298.56 645.31,297.52 646.31,296.21 647.31,294.92 648.32,293.65 649.32,292.17 650.32,290.73 651.33,289.57 652.33,288.67 653.33,287.83 654.33,287.19 655.34,286.9 656.34,286.81 657.34,286.73 658.34,286.66 659.35,286.6 660.35,286.55 661.35,286.5 662.35,286.47 663.36,286.44 664.36,286.42 665.36,286.41 666.37,286.4 667.37,286.4 668.37,286.41 669.37,286.43 670.38,286.46 671.38,286.5 672.38,286.55 673.38,286.6 674.39,286.65 675.39,286.7 676.39,286.76 677.39,286.81 678.4,286.86 679.4,286.9" fill="none" stroke="#3f7fc6" stroke-width="3.2" stroke-linejoin="round" />
<polyline points="529,264.5 530,264.54 531.01,264.59 532.01,264.64 533.01,264.7 534.01,264.75 535.02,264.81 536.02,264.87 537.02,264.92 538.02,264.98 539.03,265.04 540.03,265.09 541.03,265.14 542.03,265.19 543.04,265.23 544.04,265.28 545.04,265.31 546.05,265.34 547.05,265.37 548.05,265.39 549.05,265.4 550.06,265.4 551.06,265.38 552.06,265.32 553.06,265.23 554.07,265.13 555.07,265.02 556.07,264.9 557.07,264.79 558.08,264.7 559.08,264.64 560.08,264.6 561.09,264.79 562.09,265.66 563.09,267.09 564.09,268.9 565.1,272.14 566.1,277.48 567.1,281.65 568.1,284.86 569.11,286.18 570.11,284.26 571.11,280.72 572.11,276.5 573.12,271.57 574.12,268.56 575.12,266.22 576.13,265.4 577.13,265.68 578.13,266.04 579.13,265.96 580.14,265.2 581.14,264.24 582.14,263.31 583.14,262.2 584.15,261.07 585.15,260.11 586.15,259.5 587.15,259.29 588.16,259.15 589.16,259.03 590.16,258.95 591.17,258.91 592.17,258.91 593.17,259.03 594.17,259.24 595.18,259.52 596.18,259.83 597.18,260.16 598.18,260.47 599.19,260.74 600.19,260.93 601.19,261.09 602.19,261.25 603.2,261.39 604.2,261.54 605.2,261.67 606.21,261.8 607.21,261.92 608.21,262.04 609.21,262.15 610.22,262.26 611.22,262.36 612.22,262.46 613.22,262.55 614.23,262.64 615.23,262.72 616.23,262.79 617.23,262.86 618.24,262.92 619.24,262.98 620.24,263.03 621.25,263.08 622.25,263.13 623.25,263.18 624.25,263.24 625.26,263.3 626.26,263.37 627.26,263.44 628.26,263.52 629.27,263.61 630.27,263.7 631.27,263.8 632.27,263.91 633.28,264.04 634.28,264.2 635.28,264.39 636.29,264.63 637.29,265.06 638.29,265.64 639.29,266.31 640.3,267.16 641.3,268.46 642.3,269.63 643.3,269.98 644.31,269.45 645.31,268.36 646.31,266.97 647.31,265.55 648.32,264.02 649.32,262.13 650.32,260.27 651.33,258.87 652.33,257.92 653.33,257.05 654.33,256.43 655.34,256.2 656.34,256.2 657.34,256.2 658.34,256.2 659.35,256.2 660.35,256.2 661.35,256.2 662.35,256.2 663.36,256.2 664.36,256.2 665.36,256.2 666.37,256.2 667.37,256.2 668.37,256.2 669.37,256.2 670.38,256.2 671.38,256.2 672.38,256.2 673.38,256.2 674.39,256.2 675.39,256.2 676.39,256.2 677.39,256.2 678.4,256.2 679.4,256.2" fill="none" stroke="#4fbf3f" stroke-width="3.2" stroke-linejoin="round" />
<polyline points="529,240.4 530,240.41 531.01,240.42 532.01,240.43 533.01,240.43 534.01,240.44 535.02,240.45 536.02,240.46 537.02,240.46 538.02,240.47 539.03,240.48 540.03,240.49 541.03,240.49 542.03,240.5 543.04,240.51 544.04,240.52 545.04,240.53 546.05,240.54 547.05,240.56 548.05,240.57 549.05,240.58 550.06,240.6 551.06,240.62 552.06,240.64 553.06,240.65 554.07,240.68 555.07,240.71 556.07,240.74 557.07,240.78 558.08,240.83 559.08,240.89 560.08,240.96 561.09,241.04 562.09,241.21 563.09,242.06 564.09,243.45 565.1,245.03 566.1,246.7 567.1,249.05 568.1,251.07 569.11,251.53 570.11,250.55 571.11,248.86 572.11,247.08 573.12,244.97 574.12,242.76 575.12,241.49 576.13,240.71 577.13,240.1 578.13,239.56 579.13,239 580.14,238.43 581.14,237.9 582.14,237.41 583.14,236.97 584.15,236.62 585.15,236.27 586.15,235.94 587.15,235.66 588.16,235.47 589.16,235.4 590.16,235.45 591.17,235.58 592.17,235.77 593.17,236 594.17,236.27 595.18,236.54 596.18,236.81 597.18,237.06 598.18,237.27 599.19,237.43 600.19,237.51 601.19,237.56 602.19,237.61 603.2,237.65 604.2,237.68 605.2,237.71 606.21,237.74 607.21,237.76 608.21,237.78 609.21,237.8 610.22,237.83 611.22,237.86 612.22,237.89 613.22,237.92 614.23,237.96 615.23,238.01 616.23,238.07 617.23,238.14 618.24,238.22 619.24,238.3 620.24,238.4 621.25,238.5 622.25,238.61 623.25,238.72 624.25,238.83 625.26,238.96 626.26,239.08 627.26,239.21 628.26,239.33 629.27,239.46 630.27,239.59 631.27,239.72 632.27,239.87 633.28,240.04 634.28,240.24 635.28,240.47 636.29,240.77 637.29,241.32 638.29,241.96 639.29,242.53 640.3,242.91 641.3,243.26 642.3,243.54 643.3,243.69 644.31,243.53 645.31,242.84 646.31,241.84 647.31,240.78 648.32,239.67 649.32,238.29 650.32,236.95 651.33,235.95 652.33,235.3 653.33,234.73 654.33,234.31 655.34,234.1 656.34,234.01 657.34,233.95 658.34,233.89 659.35,233.85 660.35,233.82 661.35,233.79 662.35,233.76 663.36,233.73 664.36,233.7 665.36,233.67 666.37,233.63 667.37,233.58 668.37,233.53 669.37,233.47 670.38,233.41 671.38,233.34 672.38,233.28 673.38,233.21 674.39,233.14 675.39,233.07 676.39,233 677.39,232.93 678.4,232.87 679.4,232.8" fill="none" stroke="#9b3fc3" stroke-width="1.2" stroke-linejoin="round" />
<polygon points="529,242.22 530.82,239.03 527.18,239.03" fill="#9b3fc3"/>
<polygon points="531.01,242.24 532.83,239.05 529.18,239.05" fill="#9b3fc3"/>
<polygon points="533.01,242.26 534.83,239.07 531.19,239.07" fill="#9b3fc3"/>
<polygon points="535.02,242.27 536.84,239.08 533.19,239.08" fill="#9b3fc3"/>
<polygon points="537.02,242.29 538.84,239.1 535.2,239.1" fill="#9b3fc3"/>
<polygon points="539.03,242.3 540.85,239.11 537.2,239.11" fill="#9b3fc3"/>
<polygon points="541.03,242.32 542.85,239.13 539.21,239.13" fill="#9b3fc3"/>
<polygon points="543.04,242.33 544.86,239.14 541.21,239.14" fill="#9b3fc3"/>
<polygon points="545.04,242.35 546.87,239.17 543.22,239.17" fill="#9b3fc3"/>
<polygon points="547.05,242.38 548.87,239.19 545.23,239.19" fill="#9b3fc3"/>
<polygon points="549.05,242.41 550.88,239.22 547.23,239.22" fill="#9b3fc3"/>
<polygon points="551.06,242.44 552.88,239.25 549.24,239.25" fill="#9b3fc3"/>
<polygon points="553.06,242.48 554.89,239.29 551.24,239.29" fill="#9b3fc3"/>
<polygon points="555.07,242.53 556.89,239.34 553.25,239.34" fill="#9b3fc3"/>
<polygon points="557.07,242.6 558.9,239.41 555.25,239.41" fill="#9b3fc3"/>
<polygon points="559.08,242.71 560.9,239.52 557.26,239.52" fill="#9b3fc3"/>
<polygon points="561.09,242.87 562.91,239.68 559.26,239.68" fill="#9b3fc3"/>
<polygon points="563.09,243.88 564.91,240.69 561.27,240.69" fill="#9b3fc3"/>
<polygon points="565.1,246.86 566.92,243.67 563.27,243.67" fill="#9b3fc3"/>
<polygon points="567.1,250.87 568.92,247.68 565.28,247.68" fill="#9b3fc3"/>
<polygon points="569.11,253.36 570.93,250.17 567.28,250.17" fill="#9b3fc3"/>
<polygon points="571.11,250.68 572.93,247.49 569.29,247.49" fill="#9b3fc3"/>
<polygon points="573.12,246.79 574.94,243.6 571.29,243.6" fill="#9b3fc3"/>
<polygon points="575.12,243.31 576.95,240.12 573.3,240.12" fill="#9b3fc3"/>
<polygon points="577.13,241.92 578.95,238.73 575.31,238.73" fill="#9b3fc3"/>
<polygon points="579.13,240.82 580.96,237.63 577.31,237.63" fill="#9b3fc3"/>
<polygon points="581.14,239.72 582.96,236.53 579.32,236.53" fill="#9b3fc3"/>
<polygon points="583.14,238.8 584.97,235.61 581.32,235.61" fill="#9b3fc3"/>
<polygon points="585.15,238.09 586.97,234.91 583.33,234.91" fill="#9b3fc3"/>
<polygon points="587.15,237.48 588.98,234.29 585.33,234.29" fill="#9b3fc3"/>
<polygon points="589.16,237.22 590.98,234.03 587.34,234.03" fill="#9b3fc3"/>
<polygon points="591.17,237.4 592.99,234.21 589.34,234.21" fill="#9b3fc3"/>
<polygon points="593.17,237.83 594.99,234.64 591.35,234.64" fill="#9b3fc3"/>
<polygon points="595.18,238.36 597,235.17 593.35,235.17" fill="#9b3fc3"/>
<polygon points="597.18,238.88 599,235.69 595.36,235.69" fill="#9b3fc3"/>
<polygon points="599.19,239.25 601.01,236.06 597.36,236.06" fill="#9b3fc3"/>
<polygon points="601.19,239.39 603.01,236.2 599.37,236.2" fill="#9b3fc3"/>
<polygon points="603.2,239.47 605.02,236.28 601.37,236.28" fill="#9b3fc3"/>
<polygon points="605.2,239.53 607.03,236.34 603.38,236.34" fill="#9b3fc3"/>
<polygon points="607.21,239.58 609.03,236.39 605.39,236.39" fill="#9b3fc3"/>
<polygon points="609.21,239.63 611.04,236.44 607.39,236.44" fill="#9b3fc3"/>
<polygon points="611.22,239.68 613.04,236.49 609.4,236.49" fill="#9b3fc3"/>
<polygon points="613.22,239.74 615.05,236.55 611.4,236.55" fill="#9b3fc3"/>
<polygon points="615.23,239.83 617.05,236.65 613.41,236.65" fill="#9b3fc3"/>
<polygon points="617.23,239.96 619.06,236.77 615.41,236.77" fill="#9b3fc3"/>
<polygon points="619.24,240.13 621.06,236.94 617.42,236.94" fill="#9b3fc3"/>
<polygon points="621.25,240.32 623.07,237.13 619.42,237.13" fill="#9b3fc3"/>
<polygon points="623.25,240.54 625.07,237.35 621.43,237.35" fill="#9b3fc3"/>
<polygon points="625.26,240.78 627.08,237.59 623.43,237.59" fill="#9b3fc3"/>
<polygon points="627.26,241.03 629.08,237.84 625.44,237.84" fill="#9b3fc3"/>
<polygon points="629.27,241.28 631.09,238.09 627.44,238.09" fill="#9b3fc3"/>
<polygon points="631.27,241.54 633.09,238.35 629.45,238.35" fill="#9b3fc3"/>
<polygon points="633.28,241.86 635.1,238.67 631.45,238.67" fill="#9b3fc3"/>
<polygon points="635.28,242.29 637.11,239.1 633.46,239.1" fill="#9b3fc3"/>
<polygon points="637.29,243.14 639.11,239.95 635.47,239.95" fill="#9b3fc3"/>
<polygon points="639.29,244.36 641.12,241.17 637.47,241.17" fill="#9b3fc3"/>
<polygon points="641.3,245.08 643.12,241.89 639.48,241.89" fill="#9b3fc3"/>
<polygon points="643.3,245.51 645.13,242.32 641.48,242.32" fill="#9b3fc3"/>
<polygon points="645.31,244.66 647.13,241.47 643.49,241.47" fill="#9b3fc3"/>
<polygon points="647.31,242.6 649.14,239.41 645.49,239.41" fill="#9b3fc3"/>
<polygon points="649.32,240.11 651.14,236.92 647.5,236.92" fill="#9b3fc3"/>
<polygon points="651.33,237.77 653.15,234.58 649.5,234.58" fill="#9b3fc3"/>
<polygon points="653.33,236.55 655.15,233.36 651.51,233.36" fill="#9b3fc3"/>
<polygon points="655.34,235.92 657.16,232.73 653.51,232.73" fill="#9b3fc3"/>
<polygon points="657.34,235.77 659.16,232.58 655.52,232.58" fill="#9b3fc3"/>
<polygon points="659.35,235.67 661.17,232.48 657.52,232.48" fill="#9b3fc3"/>
<polygon points="661.35,235.61 663.17,232.42 659.53,232.42" fill="#9b3fc3"/>
<polygon points="663.36,235.56 665.18,232.37 661.53,232.37" fill="#9b3fc3"/>
<polygon points="665.36,235.49 667.19,232.3 663.54,232.3" fill="#9b3fc3"/>
<polygon points="667.37,235.4 669.19,232.21 665.55,232.21" fill="#9b3fc3"/>
<polygon points="669.37,235.29 671.2,232.1 667.55,232.1" fill="#9b3fc3"/>
<polygon points="671.38,235.16 673.2,231.97 669.56,231.97" fill="#9b3fc3"/>
<polygon points="673.38,235.03 675.21,231.84 671.56,231.84" fill="#9b3fc3"/>
<polygon points="675.39,234.89 677.21,231.7 673.57,231.7" fill="#9b3fc3"/>
<polygon points="677.39,234.76 679.22,231.57 675.57,231.57" fill="#9b3fc3"/>
<polygon points="679.4,234.62 681.22,231.43 677.58,231.43" fill="#9b3fc3"/>
</g>
<rect x="532" y="199.5" width="35.7" height="34" fill="#000"/>
<rect x="529.4" y="197.1" width="36.9" height="35" fill="#fff" stroke="#d0d0d0" stroke-width="0.6"/>
<line x1="530.9" y1="204.1" x2="547.8" y2="204.1" stroke="#3f7fc6" stroke-width="1.1" stroke-opacity="0.75"/>
<circle cx="539.3" cy="204.1" r="1.3" fill="#3f7fc6"/>
<text x="549.6" y="207" font-size="8.2" fill="#151515" font-weight="normal" text-anchor="start" >5 V</text>
<line x1="530.9" y1="215.8" x2="547.8" y2="215.8" stroke="#4fbf3f" stroke-width="1.1" stroke-opacity="0.75"/>
<circle cx="539.3" cy="215.8" r="1.3" fill="#4fbf3f"/>
<text x="549.6" y="218.7" font-size="8.2" fill="#151515" font-weight="normal" text-anchor="start" >10 V</text>
<line x1="530.9" y1="227.5" x2="547.8" y2="227.5" stroke="#9b3fc3" stroke-width="1.1" stroke-opacity="0.75"/>
<polygon points="539.3,225.75 541.05,228.82 537.54,228.82" fill="#9b3fc3"/>
<text x="549.6" y="230.4" font-size="8.2" fill="#151515" font-weight="normal" text-anchor="start" >15 V</text>
<line x1="529" y1="197" x2="679.4" y2="197" stroke="#b4b4b4" stroke-width="1.2" />
<line x1="679.4" y1="196.4" x2="679.4" y2="318.3" stroke="#505050" stroke-width="1.2" />
<line x1="529" y1="318.3" x2="680" y2="318.3" stroke="#505050" stroke-width="1.2" />
<line x1="529" y1="196.4" x2="529" y2="318.9" stroke="#9a9a9a" stroke-width="1.3" />
<text x="24" y="13" font-size="17" fill="#000" font-weight="bold" text-anchor="start" >a</text>
<text x="257.4" y="13" font-size="17" fill="#000" font-weight="bold" text-anchor="start" >b</text>
<text x="490.3" y="13" font-size="17" fill="#000" font-weight="bold" text-anchor="start" >c</text>
<text x="24" y="191.6" font-size="17" fill="#000" font-weight="bold" text-anchor="start" >d</text>
<text x="256.5" y="191.8" font-size="17" fill="#000" font-weight="bold" text-anchor="start" >e</text>
<text x="489.2" y="191.8" font-size="17" fill="#000" font-weight="bold" text-anchor="start" >f</text>
</svg></body></html>
